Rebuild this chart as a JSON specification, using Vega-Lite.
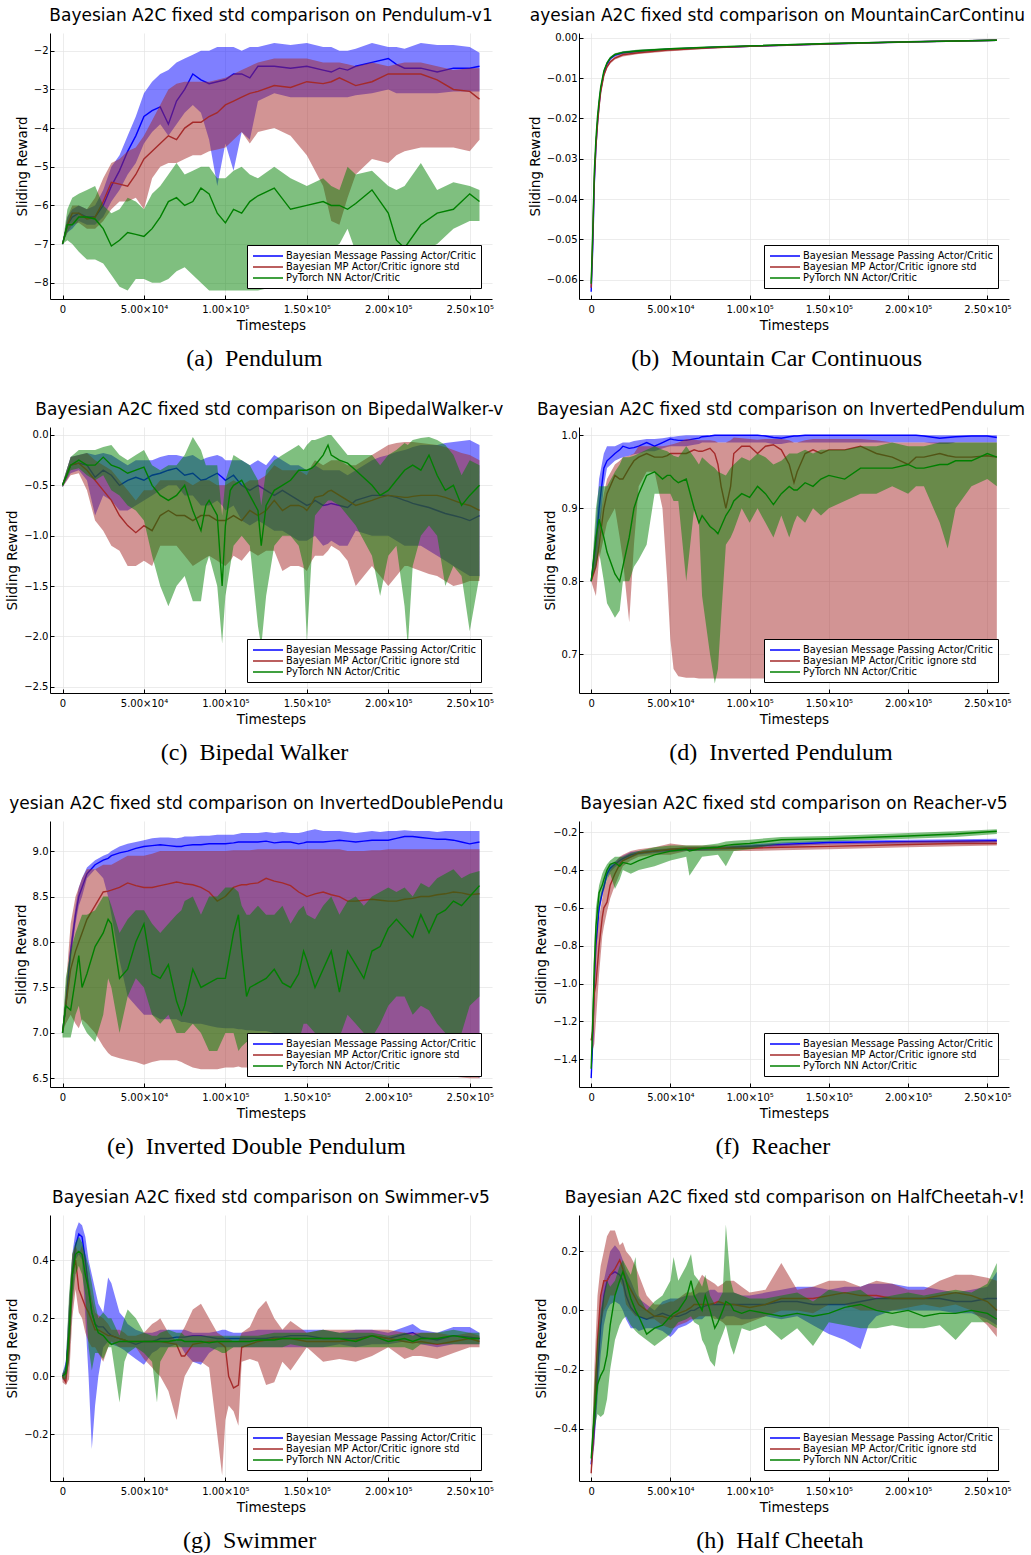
{
"$schema": "https://vega.github.io/schema/vega-lite/v6.json",
"background": "white",
"padding": {"left": 5, "top": 6, "right": 0, "bottom": 0},
"columns": 2,
"align": "each",
"spacing": {"row": 30, "column": 24},
"resolve": {"scale": {"color": "independent"}},
"config": {
 "font": "DejaVu Sans",
 "view": {"stroke": null},
 "axis": {"labelFont": "DejaVu Sans", "labelFontSize": 10, "labelColor": "#000", "titleFont": "DejaVu Sans", "titleFontSize": 13.5, "titleFontWeight": "normal", "titleColor": "#000", "domainColor": "#000", "domainWidth": 1, "gridColor": "#e4e4e4", "gridWidth": 0.7, "tickColor": "#000", "tickSize": -4},
 "axisX": {"labelPadding": 9, "titlePadding": 4},
 "axisY": {"labelPadding": 6},
 "legend": {"orient": "bottom-right", "offset": 11, "fillColor": "#ffffff", "strokeColor": "#000000", "padding": 5, "labelFont": "DejaVu Sans", "labelFontSize": 9.9, "labelColor": "#000", "symbolType": "M-3,0H3", "symbolSize": 100, "symbolOffset": 10, "symbolStrokeWidth": 1.5, "symbolOpacity": 1, "rowPadding": 0, "labelOffset": 12, "labelLimit": 320},
 "title": {"font": "DejaVu Sans", "fontSize": 17, "fontWeight": "normal", "color": "#000", "offset": 8}
},
"datasets": {
"a": [
{"t":0,"a":-7,"al":-7,"ah":-7,"b":-7,"bl":-7,"bh":-7,"c":-7,"cl":-7,"ch":-7},
{"t":3000,"a":-6.5,"al":-6.7,"ah":-6.3,"b":-6.5,"bl":-6.7,"bh":-6.3,"c":-6.5,"cl":-6.9,"ch":-6.1},
{"t":6000,"a":-6.3,"al":-6.6,"ah":-6.1,"b":-6.2,"bl":-6.5,"bh":-6.0,"c":-6.5,"cl":-7.0,"ch":-5.8},
{"t":10000,"a":-6.2,"al":-6.4,"ah":-6.0,"b":-6.2,"bl":-6.45,"bh":-6.0,"c":-6.3,"cl":-7.2,"ch":-5.7},
{"t":15000,"a":-6.3,"al":-6.5,"ah":-6.1,"b":-6.35,"bl":-6.6,"bh":-6.1,"c":-6.3,"cl":-7.4,"ch":-5.6},
{"t":20000,"a":-6.3,"al":-6.5,"ah":-6.0,"b":-6.3,"bl":-6.6,"bh":-5.8,"c":-6.35,"cl":-7.4,"ch":-5.5},
{"t":25000,"a":-6.0,"al":-6.3,"ah":-5.6,"b":-5.9,"bl":-6.4,"bh":-5.3,"c":-6.6,"cl":-7.5,"ch":-6.0},
{"t":30000,"a":-5.5,"al":-5.9,"ah":-5.0,"b":-5.4,"bl":-6.1,"bh":-4.9,"c":-7.05,"cl":-7.8,"ch":-6.2},
{"t":35000,"a":-5.1,"al":-5.6,"ah":-4.7,"b":-5.45,"bl":-5.9,"bh":-4.8,"c":-6.9,"cl":-8.1,"ch":-6.1},
{"t":40000,"a":-4.6,"al":-5.2,"ah":-4.2,"b":-5.5,"bl":-5.9,"bh":-4.6,"c":-6.7,"cl":-8.2,"ch":-5.8},
{"t":45000,"a":-4.2,"al":-4.9,"ah":-3.7,"b":-5.2,"bl":-5.8,"bh":-4.5,"c":-6.75,"cl":-7.9,"ch":-5.9},
{"t":50000,"a":-3.7,"al":-4.4,"ah":-3.1,"b":-4.8,"bl":-6.1,"bh":-4.2,"c":-6.8,"cl":-7.9,"ch":-6.1},
{"t":55000,"a":-3.55,"al":-4.1,"ah":-2.8,"b":-4.6,"bl":-5.3,"bh":-3.8,"c":-6.6,"cl":-8.0,"ch":-5.7},
{"t":60000,"a":-3.45,"al":-3.9,"ah":-2.6,"b":-4.4,"bl":-5.0,"bh":-3.4,"c":-6.3,"cl":-8.0,"ch":-5.5},
{"t":65000,"a":-3.9,"al":-4.2,"ah":-2.5,"b":-4.2,"bl":-4.9,"bh":-3.0,"c":-5.9,"cl":-7.9,"ch":-5.2},
{"t":70000,"a":-3.3,"al":-3.9,"ah":-2.3,"b":-4.3,"bl":-4.9,"bh":-2.85,"c":-5.8,"cl":-7.7,"ch":-4.9},
{"t":75000,"a":-3.0,"al":-3.6,"ah":-2.2,"b":-4.0,"bl":-4.8,"bh":-2.8,"c":-6.0,"cl":-7.6,"ch":-5.2},
{"t":80000,"a":-2.6,"al":-3.4,"ah":-2.1,"b":-3.85,"bl":-4.7,"bh":-2.8,"c":-5.9,"cl":-7.8,"ch":-5.1},
{"t":85000,"a":-2.75,"al":-3.6,"ah":-2.0,"b":-3.85,"bl":-4.7,"bh":-2.8,"c":-5.55,"cl":-8.0,"ch":-5.0},
{"t":90000,"a":-2.85,"al":-4.3,"ah":-2.0,"b":-3.7,"bl":-4.6,"bh":-2.8,"c":-5.7,"cl":-8.2,"ch":-5.0},
{"t":95000,"a":-2.8,"al":-5.5,"ah":-1.9,"b":-3.6,"bl":-4.55,"bh":-2.75,"c":-6.2,"cl":-8.2,"ch":-5.3},
{"t":100000,"a":-2.75,"al":-4.4,"ah":-1.9,"b":-3.4,"bl":-4.5,"bh":-2.7,"c":-6.45,"cl":-8.2,"ch":-5.3},
{"t":105000,"a":-2.6,"al":-5.1,"ah":-1.9,"b":-3.3,"bl":-4.3,"bh":-2.6,"c":-6.1,"cl":-8.2,"ch":-5.1},
{"t":110000,"a":-2.6,"al":-4.1,"ah":-2.0,"b":-3.2,"bl":-4.1,"bh":-2.5,"c":-6.2,"cl":-8.2,"ch":-5.0},
{"t":115000,"a":-2.7,"al":-4.3,"ah":-1.9,"b":-3.1,"bl":-4.4,"bh":-2.4,"c":-5.9,"cl":-8.2,"ch":-5.2},
{"t":120000,"a":-2.4,"al":-3.3,"ah":-1.9,"b":-3.05,"bl":-4.1,"bh":-2.3,"c":-5.75,"cl":-8.2,"ch":-5.3},
{"t":130000,"a":-2.4,"al":-3.1,"ah":-1.8,"b":-2.9,"bl":-4.0,"bh":-2.2,"c":-5.55,"cl":-8.1,"ch":-5.0},
{"t":140000,"a":-2.45,"al":-3.2,"ah":-1.85,"b":-2.95,"bl":-4.2,"bh":-2.2,"c":-6.1,"cl":-7.9,"ch":-5.3},
{"t":150000,"a":-2.4,"al":-3.2,"ah":-1.8,"b":-2.8,"bl":-4.7,"bh":-2.2,"c":-6.0,"cl":-7.5,"ch":-5.5},
{"t":160000,"a":-2.5,"al":-3.2,"ah":-1.9,"b":-2.85,"bl":-5.5,"bh":-2.3,"c":-5.9,"cl":-7.2,"ch":-5.3},
{"t":165000,"a":-2.55,"al":-3.2,"ah":-1.9,"b":-2.8,"bl":-6.4,"bh":-2.3,"c":-6.0,"cl":-7.1,"ch":-5.5},
{"t":170000,"a":-2.45,"al":-3.2,"ah":-2.0,"b":-2.7,"bl":-6.5,"bh":-2.3,"c":-6.0,"cl":-7.0,"ch":-5.6},
{"t":175000,"a":-2.5,"al":-3.2,"ah":-2.0,"b":-2.8,"bl":-5.8,"bh":-2.35,"c":-6.1,"cl":-6.6,"ch":-5.0},
{"t":180000,"a":-2.4,"al":-3.15,"ah":-1.95,"b":-2.9,"bl":-5.2,"bh":-2.4,"c":-5.95,"cl":-7.2,"ch":-5.2},
{"t":190000,"a":-2.3,"al":-3.1,"ah":-1.8,"b":-2.8,"bl":-4.8,"bh":-2.3,"c":-5.6,"cl":-7.8,"ch":-5.1},
{"t":200000,"a":-2.2,"al":-3.0,"ah":-1.9,"b":-2.6,"bl":-4.9,"bh":-2.4,"c":-6.2,"cl":-7.9,"ch":-5.5},
{"t":205000,"a":-2.35,"al":-3.1,"ah":-1.9,"b":-2.6,"bl":-4.7,"bh":-2.35,"c":-6.9,"cl":-7.8,"ch":-5.6},
{"t":210000,"a":-2.45,"al":-3.1,"ah":-1.95,"b":-2.6,"bl":-4.6,"bh":-2.3,"c":-7.1,"cl":-7.8,"ch":-5.5},
{"t":220000,"a":-2.45,"al":-3.1,"ah":-1.8,"b":-2.6,"bl":-4.5,"bh":-2.3,"c":-6.5,"cl":-7.2,"ch":-4.9},
{"t":230000,"a":-2.55,"al":-3.1,"ah":-1.85,"b":-2.75,"bl":-4.5,"bh":-2.4,"c":-6.2,"cl":-7.0,"ch":-5.6},
{"t":240000,"a":-2.45,"al":-3.05,"ah":-1.85,"b":-3.0,"bl":-4.5,"bh":-2.5,"c":-6.1,"cl":-6.6,"ch":-5.4},
{"t":250000,"a":-2.45,"al":-3.05,"ah":-1.9,"b":-3.05,"bl":-4.6,"bh":-2.45,"c":-5.7,"cl":-6.4,"ch":-5.5},
{"t":256000,"a":-2.4,"al":-3.05,"ah":-2.05,"b":-3.25,"bl":-4.3,"bh":-2.45,"c":-5.9,"cl":-6.4,"ch":-5.6}
],
"b": [
{"t":0,"a":-0.063,"al":-0.0633,"ah":-0.0627,"b":-0.062,"bl":-0.0624,"bh":-0.0616,"c":-0.061,"cl":-0.0613,"ch":-0.0607},
{"t":1000,"a":-0.052,"al":-0.0524,"ah":-0.0516,"b":-0.05,"bl":-0.0505,"bh":-0.0495,"c":-0.048,"cl":-0.0484,"ch":-0.0476},
{"t":2000,"a":-0.036,"al":-0.0364,"ah":-0.0356,"b":-0.035,"bl":-0.0355,"bh":-0.0345,"c":-0.033,"cl":-0.0334,"ch":-0.0326},
{"t":3000,"a":-0.027,"al":-0.0274,"ah":-0.0266,"b":-0.027,"bl":-0.0275,"bh":-0.0265,"c":-0.025,"cl":-0.0254,"ch":-0.0246},
{"t":4000,"a":-0.021,"al":-0.0214,"ah":-0.0206,"b":-0.0215,"bl":-0.022,"bh":-0.021,"c":-0.0195,"cl":-0.0199,"ch":-0.0191},
{"t":5000,"a":-0.0165,"al":-0.0169,"ah":-0.0161,"b":-0.017,"bl":-0.0175,"bh":-0.0165,"c":-0.0155,"cl":-0.0159,"ch":-0.0151},
{"t":6000,"a":-0.013,"al":-0.0134,"ah":-0.0126,"b":-0.0135,"bl":-0.014,"bh":-0.013,"c":-0.0122,"cl":-0.0126,"ch":-0.0118},
{"t":8000,"a":-0.0088,"al":-0.0091,"ah":-0.0085,"b":-0.0093,"bl":-0.0097,"bh":-0.0089,"c":-0.0082,"cl":-0.0085,"ch":-0.0079},
{"t":10000,"a":-0.0065,"al":-0.0068,"ah":-0.0062,"b":-0.0072,"bl":-0.0076,"bh":-0.0068,"c":-0.0062,"cl":-0.0065,"ch":-0.0059},
{"t":12000,"a":-0.0052,"al":-0.0055,"ah":-0.0049,"b":-0.006,"bl":-0.0064,"bh":-0.0056,"c":-0.005,"cl":-0.0053,"ch":-0.0047},
{"t":15000,"a":-0.0043,"al":-0.0046,"ah":-0.004,"b":-0.005,"bl":-0.0054,"bh":-0.0046,"c":-0.0041,"cl":-0.0044,"ch":-0.0038},
{"t":20000,"a":-0.0037,"al":-0.004,"ah":-0.0034,"b":-0.0042,"bl":-0.0046,"bh":-0.0038,"c":-0.0036,"cl":-0.0039,"ch":-0.0033},
{"t":30000,"a":-0.0033,"al":-0.0036,"ah":-0.003,"b":-0.0037,"bl":-0.004,"bh":-0.0034,"c":-0.0032,"cl":-0.0035,"ch":-0.0029},
{"t":50000,"a":-0.0028,"al":-0.003,"ah":-0.0026,"b":-0.003,"bl":-0.0033,"bh":-0.0027,"c":-0.0027,"cl":-0.0029,"ch":-0.0025},
{"t":75000,"a":-0.0024,"al":-0.0026,"ah":-0.0022,"b":-0.0025,"bl":-0.0027,"bh":-0.0023,"c":-0.0023,"cl":-0.0025,"ch":-0.0021},
{"t":100000,"a":-0.0021,"al":-0.0023,"ah":-0.0019,"b":-0.0021,"bl":-0.0023,"bh":-0.0019,"c":-0.002,"cl":-0.0022,"ch":-0.0018},
{"t":150000,"a":-0.0015,"al":-0.0017,"ah":-0.0013,"b":-0.0015,"bl":-0.0017,"bh":-0.0013,"c":-0.0014,"cl":-0.0016,"ch":-0.0012},
{"t":200000,"a":-0.001,"al":-0.0012,"ah":-0.0008,"b":-0.001,"bl":-0.0012,"bh":-0.0008,"c":-0.001,"cl":-0.0012,"ch":-0.0008},
{"t":256000,"a":-0.0006,"al":-0.0008,"ah":-0.0004,"b":-0.0006,"bl":-0.0008,"bh":-0.0004,"c":-0.0006,"cl":-0.0008,"ch":-0.0004}
],
"c": [
{"t":0,"a":-0.5,"al":-0.52,"ah":-0.48,"b":-0.5,"bl":-0.52,"bh":-0.48,"c":-0.5,"cl":-0.52,"ch":-0.48},
{"t":5000,"a":-0.3,"al":-0.38,"ah":-0.22,"b":-0.3,"bl":-0.4,"bh":-0.22,"c":-0.3,"cl":-0.35,"ch":-0.22},
{"t":10000,"a":-0.28,"al":-0.35,"ah":-0.2,"b":-0.28,"bl":-0.38,"bh":-0.2,"c":-0.25,"cl":-0.33,"ch":-0.15},
{"t":15000,"a":-0.3,"al":-0.45,"ah":-0.18,"b":-0.35,"bl":-0.55,"bh":-0.18,"c":-0.3,"cl":-0.4,"ch":-0.15},
{"t":20000,"a":-0.42,"al":-0.8,"ah":-0.2,"b":-0.45,"bl":-0.85,"bh":-0.25,"c":-0.3,"cl":-0.45,"ch":-0.15},
{"t":25000,"a":-0.35,"al":-0.6,"ah":-0.18,"b":-0.55,"bl":-0.95,"bh":-0.3,"c":-0.22,"cl":-0.4,"ch":-0.12},
{"t":30000,"a":-0.4,"al":-0.65,"ah":-0.2,"b":-0.65,"bl":-1.1,"bh":-0.35,"c":-0.3,"cl":-0.55,"ch":-0.1},
{"t":35000,"a":-0.5,"al":-0.75,"ah":-0.25,"b":-0.8,"bl":-1.15,"bh":-0.45,"c":-0.33,"cl":-0.6,"ch":-0.2},
{"t":40000,"a":-0.45,"al":-0.75,"ah":-0.3,"b":-0.9,"bl":-1.3,"bh":-0.55,"c":-0.38,"cl":-0.7,"ch":-0.25},
{"t":45000,"a":-0.42,"al":-0.7,"ah":-0.25,"b":-0.97,"bl":-1.3,"bh":-0.65,"c":-0.35,"cl":-0.75,"ch":-0.2},
{"t":50000,"a":-0.45,"al":-0.65,"ah":-0.25,"b":-0.9,"bl":-1.25,"bh":-0.55,"c":-0.32,"cl":-0.85,"ch":-0.15},
{"t":55000,"a":-0.4,"al":-0.6,"ah":-0.25,"b":-0.95,"bl":-1.3,"bh":-0.55,"c":-0.5,"cl":-1.2,"ch":-0.3},
{"t":60000,"a":-0.38,"al":-0.55,"ah":-0.22,"b":-0.8,"bl":-1.1,"bh":-0.45,"c":-0.6,"cl":-1.5,"ch":-0.35},
{"t":65000,"a":-0.35,"al":-0.5,"ah":-0.2,"b":-0.75,"bl":-1.1,"bh":-0.45,"c":-0.65,"cl":-1.7,"ch":-0.3},
{"t":70000,"a":-0.33,"al":-0.5,"ah":-0.2,"b":-0.8,"bl":-1.1,"bh":-0.45,"c":-0.6,"cl":-1.5,"ch":-0.3},
{"t":75000,"a":-0.4,"al":-0.6,"ah":-0.22,"b":-0.8,"bl":-1.2,"bh":-0.45,"c":-0.5,"cl":-1.4,"ch":-0.2},
{"t":80000,"a":-0.38,"al":-0.6,"ah":-0.2,"b":-0.85,"bl":-1.3,"bh":-0.5,"c":-0.75,"cl":-1.65,"ch":-0.02},
{"t":85000,"a":-0.45,"al":-0.7,"ah":-0.25,"b":-0.8,"bl":-1.25,"bh":-0.45,"c":-0.95,"cl":-1.65,"ch":-0.15},
{"t":88000,"a":-0.44,"al":-0.7,"ah":-0.23,"b":-0.8,"bl":-1.22,"bh":-0.45,"c":-0.7,"cl":-1.3,"ch":-0.3},
{"t":90000,"a":-0.42,"al":-0.7,"ah":-0.22,"b":-0.8,"bl":-1.2,"bh":-0.45,"c":-0.65,"cl":-1.2,"ch":-0.3},
{"t":95000,"a":-0.38,"al":-0.65,"ah":-0.2,"b":-0.85,"bl":-1.25,"bh":-0.5,"c":-0.8,"cl":-1.5,"ch":-0.3},
{"t":98000,"a":-0.42,"al":-0.7,"ah":-0.22,"b":-0.85,"bl":-1.28,"bh":-0.5,"c":-1.5,"cl":-2.07,"ch":-0.8},
{"t":100000,"a":-0.45,"al":-0.75,"ah":-0.25,"b":-0.85,"bl":-1.3,"bh":-0.5,"c":-0.9,"cl":-1.6,"ch":-0.45},
{"t":103000,"a":-0.42,"al":-0.72,"ah":-0.25,"b":-0.82,"bl":-1.25,"bh":-0.47,"c":-0.55,"cl":-1.3,"ch":-0.3},
{"t":105000,"a":-0.4,"al":-0.7,"ah":-0.25,"b":-0.8,"bl":-1.2,"bh":-0.45,"c":-0.5,"cl":-1.1,"ch":-0.2},
{"t":110000,"a":-0.5,"al":-0.85,"ah":-0.25,"b":-0.85,"bl":-1.25,"bh":-0.5,"c":-0.45,"cl":-1.0,"ch":-0.25},
{"t":115000,"a":-0.55,"al":-0.9,"ah":-0.3,"b":-0.75,"bl":-1.15,"bh":-0.45,"c":-0.6,"cl":-1.1,"ch":-0.3},
{"t":120000,"a":-0.5,"al":-0.85,"ah":-0.25,"b":-0.8,"bl":-1.2,"bh":-0.45,"c":-0.75,"cl":-1.9,"ch":-0.45},
{"t":122000,"a":-0.52,"al":-0.87,"ah":-0.27,"b":-0.78,"bl":-1.18,"bh":-0.43,"c":-1.1,"cl":-2.1,"ch":-0.7},
{"t":125000,"a":-0.55,"al":-0.9,"ah":-0.3,"b":-0.75,"bl":-1.15,"bh":-0.4,"c":-0.7,"cl":-1.6,"ch":-0.35},
{"t":130000,"a":-0.6,"al":-0.95,"ah":-0.2,"b":-0.65,"bl":-1.15,"bh":-0.3,"c":-0.55,"cl":-1.1,"ch":-0.25},
{"t":135000,"a":-0.55,"al":-0.95,"ah":-0.25,"b":-0.75,"bl":-1.35,"bh":-0.35,"c":-0.5,"cl":-1.0,"ch":-0.2},
{"t":140000,"a":-0.6,"al":-1.0,"ah":-0.3,"b":-0.7,"bl":-1.3,"bh":-0.35,"c":-0.45,"cl":-1.0,"ch":-0.15},
{"t":145000,"a":-0.65,"al":-1.05,"ah":-0.3,"b":-0.7,"bl":-1.3,"bh":-0.35,"c":-0.35,"cl":-1.1,"ch":-0.1},
{"t":148000,"a":-0.68,"al":-1.05,"ah":-0.33,"b":-0.72,"bl":-1.32,"bh":-0.38,"c":-0.35,"cl":-1.3,"ch":-0.15},
{"t":150000,"a":-0.7,"al":-1.05,"ah":-0.35,"b":-0.75,"bl":-1.35,"bh":-0.4,"c":-0.35,"cl":-2.05,"ch":-0.1},
{"t":153000,"a":-0.68,"al":-1.02,"ah":-0.32,"b":-0.68,"bl":-1.25,"bh":-0.3,"c":-0.33,"cl":-1.2,"ch":-0.05},
{"t":155000,"a":-0.65,"al":-1.0,"ah":-0.3,"b":-0.62,"bl":-1.2,"bh":-0.25,"c":-0.3,"cl":-0.8,"ch":-0.05},
{"t":160000,"a":-0.7,"al":-1.1,"ah":-0.35,"b":-0.6,"bl":-1.2,"bh":-0.3,"c":-0.2,"cl":-0.7,"ch":-0.02},
{"t":163000,"a":-0.69,"al":-1.08,"ah":-0.35,"b":-0.56,"bl":-1.15,"bh":-0.27,"c":-0.1,"cl":-0.65,"ch":0.0},
{"t":165000,"a":-0.68,"al":-1.05,"ah":-0.35,"b":-0.55,"bl":-1.1,"bh":-0.25,"c":-0.2,"cl":-0.65,"ch":0.0},
{"t":170000,"a":-0.7,"al":-1.1,"ah":-0.35,"b":-0.6,"bl":-1.15,"bh":-0.25,"c":-0.25,"cl":-0.7,"ch":-0.1},
{"t":175000,"a":-0.72,"al":-1.1,"ah":-0.4,"b":-0.65,"bl":-1.25,"bh":-0.3,"c":-0.28,"cl":-0.8,"ch":-0.2},
{"t":180000,"a":-0.65,"al":-0.95,"ah":-0.35,"b":-0.7,"bl":-1.5,"bh":-0.3,"c":-0.35,"cl":-0.9,"ch":-0.2},
{"t":190000,"a":-0.6,"al":-1.0,"ah":-0.25,"b":-0.65,"bl":-1.3,"bh":-0.2,"c":-0.5,"cl":-1.2,"ch":-0.2},
{"t":195000,"a":-0.6,"al":-1.0,"ah":-0.22,"b":-0.62,"bl":-1.4,"bh":-0.15,"c":-0.6,"cl":-1.6,"ch":-0.3},
{"t":200000,"a":-0.6,"al":-1.0,"ah":-0.2,"b":-0.6,"bl":-1.5,"bh":-0.1,"c":-0.55,"cl":-1.2,"ch":-0.2},
{"t":205000,"a":-0.62,"al":-1.05,"ah":-0.17,"b":-0.61,"bl":-1.4,"bh":-0.08,"c":-0.45,"cl":-1.1,"ch":-0.15},
{"t":210000,"a":-0.65,"al":-1.1,"ah":-0.15,"b":-0.62,"bl":-1.3,"bh":-0.07,"c":-0.35,"cl":-1.7,"ch":-0.08},
{"t":212000,"a":-0.66,"al":-1.1,"ah":-0.14,"b":-0.62,"bl":-1.3,"bh":-0.07,"c":-0.33,"cl":-2.1,"ch":-0.1},
{"t":215000,"a":-0.68,"al":-1.1,"ah":-0.12,"b":-0.61,"bl":-1.32,"bh":-0.07,"c":-0.3,"cl":-1.3,"ch":-0.05},
{"t":220000,"a":-0.7,"al":-1.1,"ah":-0.1,"b":-0.6,"bl":-1.35,"bh":-0.08,"c":-0.35,"cl":-1.0,"ch":-0.03},
{"t":225000,"a":-0.72,"al":-1.15,"ah":-0.1,"b":-0.6,"bl":-1.38,"bh":-0.09,"c":-0.2,"cl":-0.9,"ch":-0.02},
{"t":230000,"a":-0.75,"al":-1.2,"ah":-0.1,"b":-0.6,"bl":-1.4,"bh":-0.1,"c":-0.4,"cl":-1.0,"ch":-0.05},
{"t":235000,"a":-0.78,"al":-1.25,"ah":-0.08,"b":-0.62,"bl":-1.45,"bh":-0.12,"c":-0.55,"cl":-1.5,"ch":-0.1},
{"t":240000,"a":-0.8,"al":-1.3,"ah":-0.07,"b":-0.65,"bl":-1.5,"bh":-0.15,"c":-0.5,"cl":-1.3,"ch":-0.2},
{"t":245000,"a":-0.82,"al":-1.35,"ah":-0.06,"b":-0.68,"bl":-1.48,"bh":-0.18,"c":-0.7,"cl":-1.4,"ch":-0.4},
{"t":250000,"a":-0.85,"al":-1.4,"ah":-0.05,"b":-0.7,"bl":-1.45,"bh":-0.2,"c":-0.6,"cl":-1.95,"ch":-0.25},
{"t":256000,"a":-0.8,"al":-1.4,"ah":-0.1,"b":-0.75,"bl":-1.45,"bh":-0.25,"c":-0.5,"cl":-1.4,"ch":-0.3}
],
"d": [
{"t":0,"a":0.8,"al":0.8,"ah":0.8,"b":0.8,"bl":0.8,"bh":0.8,"c":0.8,"cl":0.8,"ch":0.8},
{"t":3000,"a":0.85,"al":0.82,"ah":0.88,"b":0.82,"bl":0.78,"bh":0.86,"c":0.86,"cl":0.82,"ch":0.9},
{"t":5000,"a":0.9,"al":0.86,"ah":0.94,"b":0.85,"bl":0.83,"bh":0.88,"c":0.885,"cl":0.84,"ch":0.93},
{"t":8000,"a":0.955,"al":0.93,"ah":0.975,"b":0.9,"bl":0.86,"bh":0.92,"c":0.86,"cl":0.8,"ch":0.93},
{"t":10000,"a":0.965,"al":0.955,"ah":0.985,"b":0.92,"bl":0.88,"bh":0.94,"c":0.84,"cl":0.77,"ch":0.93},
{"t":15000,"a":0.975,"al":0.965,"ah":0.985,"b":0.945,"bl":0.9,"bh":0.96,"c":0.81,"cl":0.75,"ch":0.95},
{"t":18000,"a":0.98,"al":0.968,"ah":0.988,"b":0.94,"bl":0.86,"bh":0.965,"c":0.8,"cl":0.76,"ch":0.96},
{"t":20000,"a":0.985,"al":0.97,"ah":0.99,"b":0.94,"bl":0.83,"bh":0.97,"c":0.82,"cl":0.8,"ch":0.97},
{"t":24000,"a":0.982,"al":0.972,"ah":0.99,"b":0.955,"bl":0.744,"bh":0.972,"c":0.86,"cl":0.8,"ch":0.97},
{"t":27000,"a":0.983,"al":0.974,"ah":0.992,"b":0.965,"bl":0.85,"bh":0.975,"c":0.9,"cl":0.82,"ch":0.972},
{"t":30000,"a":0.985,"al":0.975,"ah":0.993,"b":0.97,"bl":0.93,"bh":0.985,"c":0.92,"cl":0.83,"ch":0.975},
{"t":35000,"a":0.99,"al":0.978,"ah":0.995,"b":0.975,"bl":0.95,"bh":0.985,"c":0.945,"cl":0.85,"ch":0.98},
{"t":40000,"a":0.985,"al":0.978,"ah":0.995,"b":0.97,"bl":0.95,"bh":0.985,"c":0.95,"cl":0.92,"ch":0.985},
{"t":45000,"a":0.99,"al":0.982,"ah":0.996,"b":0.97,"bl":0.9,"bh":0.985,"c":0.94,"cl":0.92,"ch":0.98},
{"t":48000,"a":0.993,"al":0.984,"ah":0.997,"b":0.972,"bl":0.8,"bh":0.986,"c":0.945,"cl":0.92,"ch":0.978},
{"t":50000,"a":0.995,"al":0.985,"ah":0.998,"b":0.975,"bl":0.72,"bh":0.987,"c":0.945,"cl":0.92,"ch":0.975},
{"t":52000,"a":0.994,"al":0.985,"ah":0.998,"b":0.975,"bl":0.68,"bh":0.988,"c":0.94,"cl":0.91,"ch":0.972},
{"t":55000,"a":0.993,"al":0.985,"ah":0.999,"b":0.975,"bl":0.67,"bh":0.99,"c":0.935,"cl":0.91,"ch":0.97},
{"t":60000,"a":0.993,"al":0.985,"ah":1.0,"b":0.975,"bl":0.668,"bh":0.995,"c":0.94,"cl":0.8,"ch":0.985},
{"t":65000,"a":0.995,"al":0.987,"ah":1.0,"b":0.98,"bl":0.668,"bh":0.994,"c":0.9,"cl":0.9,"ch":0.97},
{"t":68000,"a":0.996,"al":0.988,"ah":1.0,"b":0.978,"bl":0.667,"bh":0.993,"c":0.88,"cl":0.88,"ch":0.96},
{"t":70000,"a":0.998,"al":0.99,"ah":1.0,"b":0.978,"bl":0.667,"bh":0.993,"c":0.89,"cl":0.78,"ch":0.97},
{"t":75000,"a":0.999,"al":0.99,"ah":1.0,"b":0.982,"bl":0.667,"bh":0.993,"c":0.875,"cl":0.7,"ch":0.96},
{"t":78000,"a":1.0,"al":0.99,"ah":1.0,"b":0.975,"bl":0.667,"bh":0.992,"c":0.87,"cl":0.66,"ch":0.955},
{"t":80000,"a":1.0,"al":0.99,"ah":1.0,"b":0.96,"bl":0.667,"bh":0.99,"c":0.865,"cl":0.68,"ch":0.95},
{"t":82000,"a":1.0,"al":0.99,"ah":1.0,"b":0.93,"bl":0.667,"bh":0.99,"c":0.875,"cl":0.75,"ch":0.948},
{"t":85000,"a":1.0,"al":0.99,"ah":1.0,"b":0.9,"bl":0.667,"bh":0.99,"c":0.89,"cl":0.85,"ch":0.945},
{"t":88000,"a":1.0,"al":0.99,"ah":1.0,"b":0.93,"bl":0.667,"bh":0.993,"c":0.9,"cl":0.86,"ch":0.955},
{"t":90000,"a":1.0,"al":0.99,"ah":1.0,"b":0.975,"bl":0.667,"bh":0.997,"c":0.91,"cl":0.87,"ch":0.96},
{"t":95000,"a":1.0,"al":0.99,"ah":1.0,"b":0.985,"bl":0.667,"bh":0.996,"c":0.92,"cl":0.9,"ch":0.97},
{"t":100000,"a":1.0,"al":0.99,"ah":1.0,"b":0.985,"bl":0.667,"bh":0.995,"c":0.915,"cl":0.88,"ch":0.965},
{"t":105000,"a":1.0,"al":0.99,"ah":1.0,"b":0.975,"bl":0.667,"bh":0.994,"c":0.93,"cl":0.9,"ch":0.975},
{"t":110000,"a":0.999,"al":0.99,"ah":1.0,"b":0.985,"bl":0.667,"bh":0.995,"c":0.92,"cl":0.88,"ch":0.97},
{"t":115000,"a":0.997,"al":0.988,"ah":1.0,"b":0.987,"bl":0.667,"bh":0.995,"c":0.905,"cl":0.86,"ch":0.96},
{"t":120000,"a":0.996,"al":0.988,"ah":1.0,"b":0.98,"bl":0.667,"bh":0.995,"c":0.92,"cl":0.89,"ch":0.965},
{"t":125000,"a":0.998,"al":0.99,"ah":1.0,"b":0.96,"bl":0.667,"bh":0.993,"c":0.93,"cl":0.86,"ch":0.975},
{"t":128000,"a":0.999,"al":0.99,"ah":1.0,"b":0.935,"bl":0.667,"bh":0.99,"c":0.925,"cl":0.88,"ch":0.975},
{"t":130000,"a":0.999,"al":0.99,"ah":1.0,"b":0.95,"bl":0.667,"bh":0.99,"c":0.925,"cl":0.89,"ch":0.975},
{"t":135000,"a":1.0,"al":0.99,"ah":1.0,"b":0.975,"bl":0.667,"bh":0.993,"c":0.935,"cl":0.88,"ch":0.98},
{"t":140000,"a":1.0,"al":0.99,"ah":1.0,"b":0.98,"bl":0.667,"bh":0.995,"c":0.93,"cl":0.9,"ch":0.975},
{"t":145000,"a":1.0,"al":0.99,"ah":1.0,"b":0.975,"bl":0.667,"bh":0.995,"c":0.94,"cl":0.89,"ch":0.98},
{"t":150000,"a":1.0,"al":0.99,"ah":1.0,"b":0.98,"bl":0.667,"bh":0.995,"c":0.945,"cl":0.9,"ch":0.98},
{"t":160000,"a":1.0,"al":0.99,"ah":1.0,"b":0.98,"bl":0.667,"bh":0.995,"c":0.94,"cl":0.91,"ch":0.98},
{"t":170000,"a":1.0,"al":0.99,"ah":1.0,"b":0.985,"bl":0.667,"bh":0.995,"c":0.955,"cl":0.92,"ch":0.985},
{"t":180000,"a":1.0,"al":0.99,"ah":1.0,"b":0.975,"bl":0.667,"bh":0.993,"c":0.955,"cl":0.92,"ch":0.985},
{"t":190000,"a":1.0,"al":0.99,"ah":1.0,"b":0.97,"bl":0.667,"bh":0.99,"c":0.955,"cl":0.93,"ch":0.99},
{"t":200000,"a":1.0,"al":0.99,"ah":1.0,"b":0.96,"bl":0.667,"bh":0.99,"c":0.96,"cl":0.92,"ch":0.985},
{"t":205000,"a":1.0,"al":0.99,"ah":1.0,"b":0.97,"bl":0.667,"bh":0.99,"c":0.955,"cl":0.93,"ch":0.985},
{"t":210000,"a":0.999,"al":0.99,"ah":1.0,"b":0.97,"bl":0.667,"bh":0.99,"c":0.955,"cl":0.93,"ch":0.985},
{"t":220000,"a":0.996,"al":0.988,"ah":1.0,"b":0.975,"bl":0.667,"bh":0.99,"c":0.96,"cl":0.88,"ch":0.99},
{"t":225000,"a":0.997,"al":0.988,"ah":1.0,"b":0.972,"bl":0.667,"bh":0.99,"c":0.96,"cl":0.845,"ch":0.99},
{"t":230000,"a":0.998,"al":0.99,"ah":1.0,"b":0.97,"bl":0.667,"bh":0.99,"c":0.965,"cl":0.9,"ch":0.99},
{"t":240000,"a":0.999,"al":0.99,"ah":1.0,"b":0.97,"bl":0.667,"bh":0.99,"c":0.965,"cl":0.93,"ch":0.99},
{"t":250000,"a":0.999,"al":0.99,"ah":1.0,"b":0.972,"bl":0.667,"bh":0.99,"c":0.975,"cl":0.94,"ch":0.99},
{"t":256000,"a":0.997,"al":0.99,"ah":1.0,"b":0.97,"bl":0.665,"bh":0.99,"c":0.97,"cl":0.93,"ch":0.99}
],
"e": [
{"t":0,"a":7.0,"al":7.0,"ah":7.0,"b":7.0,"bl":7.0,"bh":7.0,"c":7.0,"cl":6.95,"ch":7.05},
{"t":2000,"a":7.3,"al":7.2,"ah":7.4,"b":7.3,"bl":7.1,"bh":7.5,"c":7.3,"cl":6.95,"ch":7.6},
{"t":5000,"a":7.9,"al":7.8,"ah":8.0,"b":7.7,"bl":7.2,"bh":8.2,"c":7.25,"cl":6.95,"ch":7.9},
{"t":8000,"a":8.3,"al":8.2,"ah":8.4,"b":7.9,"bl":7.1,"bh":8.5,"c":7.6,"cl":7.2,"ch":8.1},
{"t":10000,"a":8.5,"al":8.4,"ah":8.6,"b":8.0,"bl":7.05,"bh":8.6,"c":7.85,"cl":7.3,"ch":8.2},
{"t":12000,"a":8.6,"al":8.5,"ah":8.7,"b":8.1,"bl":7.15,"bh":8.7,"c":7.5,"cl":7.1,"ch":8.3},
{"t":15000,"a":8.75,"al":8.7,"ah":8.82,"b":8.25,"bl":7.1,"bh":8.8,"c":7.65,"cl":7.0,"ch":8.3},
{"t":20000,"a":8.85,"al":8.8,"ah":8.9,"b":8.4,"bl":7.0,"bh":8.8,"c":7.95,"cl":6.9,"ch":8.35},
{"t":25000,"a":8.9,"al":8.7,"ah":8.95,"b":8.55,"bl":6.85,"bh":8.85,"c":8.1,"cl":7.2,"ch":8.5},
{"t":28000,"a":8.92,"al":8.5,"ah":8.97,"b":8.56,"bl":6.78,"bh":8.85,"c":8.25,"cl":7.6,"ch":8.5},
{"t":30000,"a":8.95,"al":8.3,"ah":9.0,"b":8.57,"bl":6.75,"bh":8.85,"c":8.2,"cl":7.5,"ch":8.4},
{"t":35000,"a":8.98,"al":7.8,"ah":9.05,"b":8.6,"bl":6.72,"bh":8.9,"c":7.6,"cl":7.0,"ch":8.1},
{"t":40000,"a":9.0,"al":7.4,"ah":9.08,"b":8.65,"bl":6.7,"bh":8.95,"c":7.7,"cl":7.4,"ch":8.25},
{"t":45000,"a":9.03,"al":7.3,"ah":9.1,"b":8.62,"bl":6.68,"bh":8.95,"c":8.0,"cl":7.6,"ch":8.35},
{"t":50000,"a":9.05,"al":7.2,"ah":9.12,"b":8.6,"bl":6.65,"bh":8.95,"c":8.2,"cl":7.5,"ch":8.35},
{"t":55000,"a":9.06,"al":7.2,"ah":9.14,"b":8.6,"bl":6.68,"bh":8.97,"c":7.65,"cl":7.2,"ch":8.2},
{"t":60000,"a":9.07,"al":7.15,"ah":9.15,"b":8.62,"bl":6.7,"bh":9.0,"c":7.6,"cl":7.1,"ch":8.1},
{"t":65000,"a":9.06,"al":7.15,"ah":9.15,"b":8.64,"bl":6.7,"bh":9.0,"c":7.75,"cl":7.2,"ch":8.2},
{"t":70000,"a":9.05,"al":7.15,"ah":9.14,"b":8.66,"bl":6.7,"bh":9.0,"c":7.35,"cl":7.0,"ch":8.3},
{"t":73000,"a":9.05,"al":7.12,"ah":9.15,"b":8.65,"bl":6.68,"bh":9.0,"c":7.2,"cl":7.0,"ch":8.35},
{"t":75000,"a":9.06,"al":7.12,"ah":9.16,"b":8.64,"bl":6.66,"bh":9.0,"c":7.3,"cl":7.0,"ch":8.45},
{"t":80000,"a":9.07,"al":7.1,"ah":9.16,"b":8.63,"bl":6.62,"bh":9.0,"c":7.7,"cl":7.1,"ch":8.5},
{"t":85000,"a":9.07,"al":7.1,"ah":9.17,"b":8.6,"bl":6.6,"bh":9.0,"c":7.5,"cl":7.0,"ch":8.3},
{"t":90000,"a":9.08,"al":7.08,"ah":9.17,"b":8.55,"bl":6.6,"bh":9.0,"c":7.55,"cl":6.8,"ch":8.5},
{"t":95000,"a":9.08,"al":7.06,"ah":9.18,"b":8.45,"bl":6.6,"bh":9.0,"c":7.6,"cl":6.8,"ch":8.5},
{"t":100000,"a":9.08,"al":7.05,"ah":9.18,"b":8.5,"bl":6.62,"bh":9.0,"c":7.6,"cl":7.0,"ch":8.6},
{"t":105000,"a":9.09,"al":7.05,"ah":9.18,"b":8.6,"bl":6.62,"bh":9.01,"c":8.1,"cl":7.0,"ch":8.6},
{"t":108000,"a":9.1,"al":7.04,"ah":9.19,"b":8.62,"bl":6.63,"bh":9.01,"c":8.3,"cl":6.8,"ch":8.55},
{"t":110000,"a":9.1,"al":7.04,"ah":9.2,"b":8.63,"bl":6.62,"bh":9.01,"c":7.9,"cl":6.85,"ch":8.4},
{"t":113000,"a":9.1,"al":7.03,"ah":9.2,"b":8.63,"bl":6.62,"bh":9.01,"c":7.4,"cl":6.9,"ch":8.3},
{"t":115000,"a":9.1,"al":7.03,"ah":9.2,"b":8.64,"bl":6.62,"bh":9.01,"c":7.5,"cl":6.9,"ch":8.3},
{"t":120000,"a":9.1,"al":7.02,"ah":9.2,"b":8.65,"bl":6.6,"bh":9.02,"c":7.55,"cl":6.9,"ch":8.4},
{"t":125000,"a":9.11,"al":7.02,"ah":9.21,"b":8.7,"bl":6.6,"bh":9.02,"c":7.6,"cl":7.0,"ch":8.3},
{"t":130000,"a":9.09,"al":7.0,"ah":9.2,"b":8.67,"bl":6.6,"bh":9.02,"c":7.7,"cl":7.0,"ch":8.3},
{"t":135000,"a":9.1,"al":7.0,"ah":9.21,"b":8.65,"bl":6.58,"bh":9.02,"c":7.55,"cl":6.9,"ch":8.4},
{"t":140000,"a":9.1,"al":7.0,"ah":9.2,"b":8.62,"bl":6.56,"bh":9.02,"c":7.5,"cl":7.0,"ch":8.2},
{"t":145000,"a":9.08,"al":7.0,"ah":9.2,"b":8.55,"bl":6.56,"bh":9.02,"c":7.65,"cl":6.9,"ch":8.35},
{"t":148000,"a":9.09,"al":7.0,"ah":9.21,"b":8.52,"bl":6.56,"bh":9.02,"c":7.9,"cl":7.1,"ch":8.4},
{"t":150000,"a":9.1,"al":6.98,"ah":9.22,"b":8.5,"bl":6.55,"bh":9.02,"c":7.8,"cl":7.1,"ch":8.3},
{"t":155000,"a":9.1,"al":6.98,"ah":9.24,"b":8.53,"bl":6.55,"bh":9.02,"c":7.5,"cl":7.0,"ch":8.25},
{"t":160000,"a":9.1,"al":6.95,"ah":9.22,"b":8.55,"bl":6.55,"bh":9.02,"c":7.7,"cl":6.95,"ch":8.4},
{"t":165000,"a":9.11,"al":6.95,"ah":9.22,"b":8.52,"bl":6.55,"bh":9.02,"c":7.9,"cl":7.0,"ch":8.5},
{"t":170000,"a":9.12,"al":6.93,"ah":9.22,"b":8.5,"bl":6.55,"bh":9.02,"c":7.45,"cl":6.95,"ch":8.3},
{"t":175000,"a":9.11,"al":6.92,"ah":9.21,"b":8.45,"bl":6.55,"bh":9.0,"c":7.9,"cl":7.2,"ch":8.45},
{"t":180000,"a":9.1,"al":6.9,"ah":9.2,"b":8.45,"bl":6.55,"bh":9.0,"c":7.75,"cl":7.1,"ch":8.5},
{"t":185000,"a":9.11,"al":6.9,"ah":9.21,"b":8.46,"bl":6.55,"bh":9.0,"c":7.6,"cl":7.0,"ch":8.4},
{"t":190000,"a":9.12,"al":6.9,"ah":9.22,"b":8.47,"bl":6.54,"bh":9.01,"c":7.9,"cl":6.95,"ch":8.5},
{"t":195000,"a":9.12,"al":6.9,"ah":9.21,"b":8.46,"bl":6.54,"bh":9.01,"c":7.95,"cl":7.1,"ch":8.55},
{"t":200000,"a":9.12,"al":6.9,"ah":9.22,"b":8.45,"bl":6.54,"bh":9.02,"c":8.15,"cl":7.3,"ch":8.6},
{"t":205000,"a":9.14,"al":6.9,"ah":9.22,"b":8.45,"bl":6.53,"bh":9.02,"c":8.25,"cl":7.4,"ch":8.55},
{"t":210000,"a":9.16,"al":6.9,"ah":9.23,"b":8.47,"bl":6.53,"bh":9.02,"c":8.15,"cl":7.4,"ch":8.6},
{"t":215000,"a":9.16,"al":6.88,"ah":9.22,"b":8.48,"bl":6.53,"bh":9.02,"c":8.05,"cl":7.2,"ch":8.5},
{"t":220000,"a":9.15,"al":6.88,"ah":9.22,"b":8.5,"bl":6.52,"bh":9.02,"c":8.3,"cl":7.3,"ch":8.65},
{"t":225000,"a":9.14,"al":6.87,"ah":9.22,"b":8.5,"bl":6.52,"bh":9.02,"c":8.1,"cl":7.25,"ch":8.6},
{"t":230000,"a":9.13,"al":6.87,"ah":9.21,"b":8.52,"bl":6.52,"bh":9.02,"c":8.3,"cl":7.1,"ch":8.7},
{"t":235000,"a":9.13,"al":6.86,"ah":9.22,"b":8.53,"bl":6.52,"bh":9.02,"c":8.35,"cl":7.0,"ch":8.75},
{"t":240000,"a":9.12,"al":6.85,"ah":9.22,"b":8.55,"bl":6.52,"bh":9.02,"c":8.45,"cl":6.95,"ch":8.8},
{"t":245000,"a":9.1,"al":6.8,"ah":9.22,"b":8.54,"bl":6.51,"bh":9.02,"c":8.4,"cl":7.0,"ch":8.7},
{"t":250000,"a":9.08,"al":6.6,"ah":9.22,"b":8.52,"bl":6.5,"bh":9.02,"c":8.5,"cl":7.3,"ch":8.75},
{"t":256000,"a":9.1,"al":6.5,"ah":9.22,"b":8.53,"bl":6.5,"bh":9.02,"c":8.62,"cl":7.4,"ch":8.78}
],
"f": [
{"t":0,"a":-1.5,"al":-1.5,"ah":-1.5,"b":-1.3,"bl":-1.3,"bh":-1.3,"c":-1.45,"cl":-1.45,"ch":-1.45},
{"t":1000,"a":-1.3,"al":-1.35,"ah":-1.25,"b":-1.25,"bl":-1.35,"bh":-1.1,"c":-1.2,"cl":-1.3,"ch":-1.1},
{"t":2000,"a":-1.0,"al":-1.05,"ah":-0.95,"b":-1.05,"bl":-1.32,"bh":-0.9,"c":-0.9,"cl":-1.0,"ch":-0.8},
{"t":3000,"a":-0.8,"al":-0.85,"ah":-0.75,"b":-1.0,"bl":-1.2,"bh":-0.8,"c":-0.7,"cl":-0.8,"ch":-0.6},
{"t":5000,"a":-0.6,"al":-0.63,"ah":-0.57,"b":-0.8,"bl":-0.95,"bh":-0.65,"c":-0.52,"cl":-0.6,"ch":-0.48},
{"t":7000,"a":-0.52,"al":-0.54,"ah":-0.5,"b":-0.65,"bl":-0.75,"bh":-0.55,"c":-0.48,"cl":-0.52,"ch":-0.42},
{"t":8000,"a":-0.49,"al":-0.51,"ah":-0.47,"b":-0.6,"bl":-0.7,"bh":-0.5,"c":-0.45,"cl":-0.5,"ch":-0.4},
{"t":10000,"a":-0.42,"al":-0.44,"ah":-0.4,"b":-0.57,"bl":-0.62,"bh":-0.45,"c":-0.4,"cl":-0.45,"ch":-0.37},
{"t":12000,"a":-0.39,"al":-0.41,"ah":-0.37,"b":-0.48,"bl":-0.55,"bh":-0.4,"c":-0.37,"cl":-0.42,"ch":-0.35},
{"t":15000,"a":-0.37,"al":-0.385,"ah":-0.355,"b":-0.42,"bl":-0.48,"bh":-0.36,"c":-0.36,"cl":-0.5,"ch":-0.33},
{"t":18000,"a":-0.35,"al":-0.365,"ah":-0.335,"b":-0.37,"bl":-0.42,"bh":-0.33,"c":-0.38,"cl":-0.45,"ch":-0.33},
{"t":20000,"a":-0.34,"al":-0.355,"ah":-0.325,"b":-0.35,"bl":-0.38,"bh":-0.32,"c":-0.36,"cl":-0.4,"ch":-0.33},
{"t":25000,"a":-0.32,"al":-0.335,"ah":-0.305,"b":-0.33,"bl":-0.35,"bh":-0.3,"c":-0.37,"cl":-0.42,"ch":-0.31},
{"t":30000,"a":-0.31,"al":-0.32,"ah":-0.3,"b":-0.31,"bl":-0.33,"bh":-0.29,"c":-0.35,"cl":-0.4,"ch":-0.3},
{"t":40000,"a":-0.3,"al":-0.31,"ah":-0.29,"b":-0.3,"bl":-0.32,"bh":-0.28,"c":-0.32,"cl":-0.38,"ch":-0.28},
{"t":50000,"a":-0.295,"al":-0.305,"ah":-0.285,"b":-0.29,"bl":-0.32,"bh":-0.26,"c":-0.3,"cl":-0.35,"ch":-0.27},
{"t":60000,"a":-0.29,"al":-0.3,"ah":-0.28,"b":-0.285,"bl":-0.3,"bh":-0.27,"c":-0.29,"cl":-0.33,"ch":-0.27},
{"t":62000,"a":-0.29,"al":-0.3,"ah":-0.28,"b":-0.285,"bl":-0.3,"bh":-0.27,"c":-0.3,"cl":-0.43,"ch":-0.27},
{"t":70000,"a":-0.288,"al":-0.298,"ah":-0.278,"b":-0.285,"bl":-0.3,"bh":-0.27,"c":-0.285,"cl":-0.33,"ch":-0.27},
{"t":80000,"a":-0.285,"al":-0.295,"ah":-0.275,"b":-0.285,"bl":-0.3,"bh":-0.27,"c":-0.28,"cl":-0.32,"ch":-0.26},
{"t":85000,"a":-0.283,"al":-0.293,"ah":-0.273,"b":-0.285,"bl":-0.3,"bh":-0.27,"c":-0.27,"cl":-0.38,"ch":-0.25},
{"t":90000,"a":-0.28,"al":-0.29,"ah":-0.27,"b":-0.285,"bl":-0.3,"bh":-0.27,"c":-0.265,"cl":-0.3,"ch":-0.245},
{"t":100000,"a":-0.275,"al":-0.285,"ah":-0.265,"b":-0.285,"bl":-0.3,"bh":-0.27,"c":-0.26,"cl":-0.29,"ch":-0.24},
{"t":120000,"a":-0.265,"al":-0.275,"ah":-0.255,"b":-0.28,"bl":-0.295,"bh":-0.265,"c":-0.24,"cl":-0.26,"ch":-0.225},
{"t":150000,"a":-0.255,"al":-0.265,"ah":-0.245,"b":-0.275,"bl":-0.29,"bh":-0.26,"c":-0.235,"cl":-0.25,"ch":-0.22},
{"t":200000,"a":-0.25,"al":-0.26,"ah":-0.24,"b":-0.265,"bl":-0.28,"bh":-0.25,"c":-0.22,"cl":-0.235,"ch":-0.205},
{"t":230000,"a":-0.248,"al":-0.258,"ah":-0.238,"b":-0.26,"bl":-0.275,"bh":-0.245,"c":-0.21,"cl":-0.225,"ch":-0.195},
{"t":256000,"a":-0.245,"al":-0.255,"ah":-0.235,"b":-0.26,"bl":-0.27,"bh":-0.245,"c":-0.195,"cl":-0.21,"ch":-0.185}
],
"g": [
{"t":0,"a":0,"al":-0.01,"ah":0.01,"b":0,"bl":-0.02,"bh":0.01,"c":0,"cl":-0.01,"ch":0.01},
{"t":2000,"a":0.02,"al":-0.02,"ah":0.05,"b":-0.02,"bl":-0.03,"bh":0.02,"c":0.01,"cl":-0.01,"ch":0.04},
{"t":4000,"a":0.15,"al":0.05,"ah":0.25,"b":0.1,"bl":-0.01,"bh":0.25,"c":0.15,"cl":0.05,"ch":0.28},
{"t":6000,"a":0.35,"al":0.25,"ah":0.42,"b":0.35,"bl":0.2,"bh":0.42,"c":0.35,"cl":0.25,"ch":0.42},
{"t":8000,"a":0.45,"al":0.4,"ah":0.5,"b":0.4,"bl":0.3,"bh":0.45,"c":0.42,"cl":0.35,"ch":0.46},
{"t":10000,"a":0.49,"al":0.42,"ah":0.53,"b":0.3,"bl":0.22,"bh":0.42,"c":0.43,"cl":0.38,"ch":0.48},
{"t":12000,"a":0.48,"al":0.4,"ah":0.52,"b":0.27,"bl":0.2,"bh":0.45,"c":0.42,"cl":0.35,"ch":0.46},
{"t":14000,"a":0.4,"al":0.2,"ah":0.48,"b":0.24,"bl":0.15,"bh":0.4,"c":0.35,"cl":0.28,"ch":0.42},
{"t":16000,"a":0.3,"al":0.0,"ah":0.4,"b":0.22,"bl":0.12,"bh":0.33,"c":0.3,"cl":0.1,"ch":0.38},
{"t":18000,"a":0.22,"al":-0.25,"ah":0.35,"b":0.19,"bl":0.1,"bh":0.27,"c":0.22,"cl":0.02,"ch":0.32},
{"t":20000,"a":0.18,"al":-0.1,"ah":0.3,"b":0.16,"bl":0.1,"bh":0.22,"c":0.18,"cl":0.08,"ch":0.25},
{"t":22000,"a":0.17,"al":0.0,"ah":0.25,"b":0.16,"bl":0.08,"bh":0.21,"c":0.15,"cl":0.08,"ch":0.2},
{"t":25000,"a":0.17,"al":0.1,"ah":0.22,"b":0.15,"bl":0.05,"bh":0.2,"c":0.14,"cl":0.06,"ch":0.22},
{"t":28000,"a":0.15,"al":0.12,"ah":0.34,"b":0.14,"bl":0.1,"bh":0.18,"c":0.12,"cl":0.1,"ch":0.2},
{"t":30000,"a":0.14,"al":0.11,"ah":0.32,"b":0.14,"bl":0.12,"bh":0.16,"c":0.11,"cl":0.1,"ch":0.2},
{"t":35000,"a":0.13,"al":0.1,"ah":0.22,"b":0.13,"bl":0.1,"bh":0.16,"c":0.12,"cl":-0.09,"ch":0.14},
{"t":38000,"a":0.125,"al":0.09,"ah":0.2,"b":0.125,"bl":0.1,"bh":0.15,"c":0.12,"cl":0.05,"ch":0.2},
{"t":40000,"a":0.12,"al":0.08,"ah":0.18,"b":0.12,"bl":0.1,"bh":0.14,"c":0.12,"cl":0.08,"ch":0.23},
{"t":45000,"a":0.11,"al":0.06,"ah":0.16,"b":0.12,"bl":0.1,"bh":0.14,"c":0.12,"cl":0.1,"ch":0.2},
{"t":50000,"a":0.12,"al":0.04,"ah":0.15,"b":0.12,"bl":0.06,"bh":0.15,"c":0.12,"cl":0.08,"ch":0.15},
{"t":55000,"a":0.12,"al":0.08,"ah":0.15,"b":0.12,"bl":0.03,"bh":0.18,"c":0.12,"cl":0.05,"ch":0.14},
{"t":58000,"a":0.125,"al":0.09,"ah":0.155,"b":0.12,"bl":0.01,"bh":0.19,"c":0.12,"cl":-0.09,"ch":0.14},
{"t":60000,"a":0.13,"al":0.1,"ah":0.16,"b":0.12,"bl":0.0,"bh":0.2,"c":0.12,"cl":0.05,"ch":0.15},
{"t":65000,"a":0.13,"al":0.1,"ah":0.16,"b":0.115,"bl":-0.05,"bh":0.15,"c":0.12,"cl":0.1,"ch":0.16},
{"t":70000,"a":0.135,"al":0.11,"ah":0.16,"b":0.11,"bl":-0.15,"bh":0.12,"c":0.125,"cl":0.1,"ch":0.15},
{"t":73000,"a":0.135,"al":0.1,"ah":0.16,"b":0.07,"bl":-0.05,"bh":0.15,"c":0.125,"cl":0.1,"ch":0.15},
{"t":75000,"a":0.135,"al":0.08,"ah":0.16,"b":0.07,"bl":0.0,"bh":0.17,"c":0.12,"cl":0.1,"ch":0.14},
{"t":80000,"a":0.14,"al":0.05,"ah":0.15,"b":0.11,"bl":0.05,"bh":0.23,"c":0.12,"cl":0.1,"ch":0.14},
{"t":85000,"a":0.14,"al":0.04,"ah":0.15,"b":0.115,"bl":0.05,"bh":0.25,"c":0.12,"cl":0.1,"ch":0.14},
{"t":90000,"a":0.135,"al":0.08,"ah":0.15,"b":0.12,"bl":0.03,"bh":0.2,"c":0.115,"cl":0.1,"ch":0.14},
{"t":95000,"a":0.13,"al":0.1,"ah":0.155,"b":0.12,"bl":-0.2,"bh":0.15,"c":0.12,"cl":0.09,"ch":0.14},
{"t":98000,"a":0.13,"al":0.1,"ah":0.16,"b":0.11,"bl":-0.34,"bh":0.14,"c":0.12,"cl":0.08,"ch":0.14},
{"t":100000,"a":0.13,"al":0.1,"ah":0.16,"b":0.1,"bl":-0.15,"bh":0.13,"c":0.12,"cl":0.08,"ch":0.14},
{"t":102000,"a":0.13,"al":0.1,"ah":0.155,"b":0.0,"bl":-0.1,"bh":0.13,"c":0.12,"cl":0.09,"ch":0.14},
{"t":105000,"a":0.13,"al":0.1,"ah":0.15,"b":-0.04,"bl":-0.12,"bh":0.12,"c":0.12,"cl":0.1,"ch":0.14},
{"t":108000,"a":0.13,"al":0.1,"ah":0.15,"b":-0.03,"bl":-0.17,"bh":0.12,"c":0.12,"cl":0.1,"ch":0.14},
{"t":110000,"a":0.13,"al":0.1,"ah":0.15,"b":0.1,"bl":0.05,"bh":0.15,"c":0.12,"cl":0.1,"ch":0.14},
{"t":115000,"a":0.13,"al":0.1,"ah":0.155,"b":0.11,"bl":0.06,"bh":0.17,"c":0.12,"cl":0.1,"ch":0.14},
{"t":120000,"a":0.13,"al":0.1,"ah":0.16,"b":0.12,"bl":0.05,"bh":0.23,"c":0.125,"cl":0.1,"ch":0.14},
{"t":125000,"a":0.13,"al":0.1,"ah":0.16,"b":0.125,"bl":-0.03,"bh":0.26,"c":0.125,"cl":0.1,"ch":0.145},
{"t":130000,"a":0.135,"al":0.1,"ah":0.16,"b":0.13,"bl":-0.02,"bh":0.2,"c":0.125,"cl":0.1,"ch":0.15},
{"t":135000,"a":0.135,"al":0.1,"ah":0.16,"b":0.13,"bl":0.05,"bh":0.16,"c":0.13,"cl":0.1,"ch":0.15},
{"t":140000,"a":0.14,"al":0.1,"ah":0.16,"b":0.13,"bl":0.02,"bh":0.19,"c":0.13,"cl":0.11,"ch":0.15},
{"t":150000,"a":0.14,"al":0.1,"ah":0.16,"b":0.12,"bl":0.1,"bh":0.15,"c":0.13,"cl":0.1,"ch":0.15},
{"t":160000,"a":0.13,"al":0.1,"ah":0.16,"b":0.12,"bl":0.05,"bh":0.16,"c":0.13,"cl":0.1,"ch":0.16},
{"t":170000,"a":0.13,"al":0.11,"ah":0.15,"b":0.12,"bl":0.06,"bh":0.16,"c":0.13,"cl":0.1,"ch":0.15},
{"t":180000,"a":0.13,"al":0.1,"ah":0.16,"b":0.125,"bl":0.05,"bh":0.16,"c":0.12,"cl":0.1,"ch":0.15},
{"t":190000,"a":0.14,"al":0.11,"ah":0.16,"b":0.14,"bl":0.07,"bh":0.16,"c":0.14,"cl":0.1,"ch":0.15},
{"t":200000,"a":0.13,"al":0.11,"ah":0.15,"b":0.13,"bl":0.1,"bh":0.16,"c":0.12,"cl":0.1,"ch":0.14},
{"t":210000,"a":0.145,"al":0.12,"ah":0.17,"b":0.12,"bl":0.06,"bh":0.15,"c":0.13,"cl":0.1,"ch":0.15},
{"t":215000,"a":0.15,"al":0.12,"ah":0.18,"b":0.115,"bl":0.07,"bh":0.15,"c":0.12,"cl":0.09,"ch":0.14},
{"t":220000,"a":0.135,"al":0.11,"ah":0.16,"b":0.12,"bl":0.07,"bh":0.15,"c":0.13,"cl":0.11,"ch":0.15},
{"t":230000,"a":0.125,"al":0.1,"ah":0.15,"b":0.11,"bl":0.06,"bh":0.15,"c":0.13,"cl":0.11,"ch":0.15},
{"t":240000,"a":0.14,"al":0.11,"ah":0.17,"b":0.12,"bl":0.08,"bh":0.14,"c":0.14,"cl":0.11,"ch":0.16},
{"t":250000,"a":0.135,"al":0.11,"ah":0.17,"b":0.13,"bl":0.1,"bh":0.15,"c":0.13,"cl":0.11,"ch":0.15},
{"t":256000,"a":0.13,"al":0.11,"ah":0.15,"b":0.12,"bl":0.1,"bh":0.14,"c":0.13,"cl":0.11,"ch":0.15}
],
"h": [
{"t":0,"a":-0.52,"al":-0.55,"ah":-0.5,"b":-0.55,"bl":-0.56,"bh":-0.54,"c":-0.5,"cl":-0.52,"ch":-0.48},
{"t":2000,"a":-0.4,"al":-0.45,"ah":-0.3,"b":-0.35,"bl":-0.45,"bh":-0.2,"c":-0.35,"cl":-0.4,"ch":-0.25},
{"t":4000,"a":-0.2,"al":-0.3,"ah":-0.1,"b":-0.1,"bl":-0.25,"bh":0.05,"c":-0.25,"cl":-0.35,"ch":-0.1},
{"t":6000,"a":-0.05,"al":-0.15,"ah":0.05,"b":0.05,"bl":-0.05,"bh":0.15,"c":-0.22,"cl":-0.36,"ch":0.0},
{"t":8000,"a":0.05,"al":-0.05,"ah":0.1,"b":0.1,"bl":0.0,"bh":0.2,"c":-0.2,"cl":-0.35,"ch":0.05},
{"t":10000,"a":0.1,"al":0.0,"ah":0.15,"b":0.1,"bl":0.02,"bh":0.25,"c":-0.15,"cl":-0.3,"ch":0.1},
{"t":12000,"a":0.12,"al":0.02,"ah":0.2,"b":0.12,"bl":0.05,"bh":0.27,"c":-0.05,"cl":-0.2,"ch":0.08},
{"t":15000,"a":0.13,"al":0.03,"ah":0.22,"b":0.14,"bl":0.05,"bh":0.27,"c":0.05,"cl":-0.1,"ch":0.1},
{"t":18000,"a":0.12,"al":0.02,"ah":0.2,"b":0.17,"bl":0.1,"bh":0.22,"c":0.1,"cl":-0.05,"ch":0.15},
{"t":20000,"a":0.1,"al":0.0,"ah":0.17,"b":0.14,"bl":0.08,"bh":0.23,"c":0.13,"cl":-0.03,"ch":0.17},
{"t":22000,"a":0.05,"al":-0.03,"ah":0.13,"b":0.1,"bl":0.02,"bh":0.2,"c":0.1,"cl":-0.02,"ch":0.15},
{"t":25000,"a":0.01,"al":-0.06,"ah":0.1,"b":0.07,"bl":0.0,"bh":0.18,"c":0.04,"cl":-0.05,"ch":0.12},
{"t":28000,"a":-0.01,"al":-0.06,"ah":0.06,"b":0.04,"bl":-0.02,"bh":0.15,"c":0.0,"cl":-0.07,"ch":0.18},
{"t":30000,"a":-0.02,"al":-0.07,"ah":0.04,"b":0.02,"bl":-0.02,"bh":0.12,"c":-0.02,"cl":-0.08,"ch":0.05},
{"t":35000,"a":-0.03,"al":-0.06,"ah":0.02,"b":0.0,"bl":-0.03,"bh":0.05,"c":-0.08,"cl":-0.1,"ch":0.0},
{"t":40000,"a":-0.02,"al":-0.06,"ah":0.0,"b":-0.02,"bl":-0.03,"bh":0.02,"c":-0.06,"cl":-0.12,"ch":0.03},
{"t":45000,"a":-0.01,"al":-0.07,"ah":0.03,"b":-0.02,"bl":-0.05,"bh":0.02,"c":-0.05,"cl":-0.1,"ch":0.05},
{"t":50000,"a":-0.02,"al":-0.09,"ah":0.04,"b":-0.03,"bl":-0.06,"bh":0.03,"c":-0.02,"cl":-0.08,"ch":0.1},
{"t":52000,"a":-0.02,"al":-0.08,"ah":0.04,"b":-0.02,"bl":-0.06,"bh":0.03,"c":-0.01,"cl":-0.06,"ch":0.18},
{"t":55000,"a":-0.02,"al":-0.06,"ah":0.04,"b":-0.01,"bl":-0.05,"bh":0.04,"c":0.0,"cl":-0.04,"ch":0.1},
{"t":60000,"a":-0.01,"al":-0.05,"ah":0.05,"b":0.0,"bl":-0.04,"bh":0.06,"c":0.04,"cl":-0.03,"ch":0.15},
{"t":63000,"a":0.0,"al":-0.04,"ah":0.05,"b":0.01,"bl":-0.03,"bh":0.06,"c":0.1,"cl":-0.02,"ch":0.19},
{"t":65000,"a":0.0,"al":-0.03,"ah":0.05,"b":0.02,"bl":-0.03,"bh":0.07,"c":0.05,"cl":-0.04,"ch":0.12},
{"t":68000,"a":0.01,"al":-0.03,"ah":0.06,"b":0.02,"bl":-0.02,"bh":0.1,"c":0.02,"cl":-0.05,"ch":0.1},
{"t":70000,"a":0.01,"al":-0.03,"ah":0.06,"b":0.02,"bl":-0.02,"bh":0.12,"c":0.0,"cl":-0.1,"ch":0.08},
{"t":72000,"a":0.015,"al":-0.02,"ah":0.06,"b":0.02,"bl":-0.02,"bh":0.11,"c":0.05,"cl":-0.12,"ch":0.12},
{"t":75000,"a":0.02,"al":-0.02,"ah":0.07,"b":0.02,"bl":-0.02,"bh":0.1,"c":0.0,"cl":-0.17,"ch":0.05},
{"t":78000,"a":0.02,"al":-0.02,"ah":0.07,"b":0.025,"bl":-0.03,"bh":0.09,"c":-0.06,"cl":-0.19,"ch":0.02},
{"t":80000,"a":0.02,"al":-0.03,"ah":0.06,"b":0.03,"bl":-0.03,"bh":0.08,"c":-0.04,"cl":-0.12,"ch":0.03},
{"t":83000,"a":0.02,"al":-0.03,"ah":0.06,"b":0.025,"bl":-0.04,"bh":0.09,"c":0.0,"cl":-0.08,"ch":0.06},
{"t":85000,"a":0.02,"al":-0.02,"ah":0.06,"b":0.02,"bl":-0.05,"bh":0.1,"c":0.03,"cl":-0.05,"ch":0.29},
{"t":88000,"a":0.02,"al":-0.02,"ah":0.06,"b":0.02,"bl":-0.05,"bh":0.1,"c":0.02,"cl":-0.12,"ch":0.1},
{"t":90000,"a":0.02,"al":-0.02,"ah":0.06,"b":0.02,"bl":-0.05,"bh":0.1,"c":0.0,"cl":-0.15,"ch":0.06},
{"t":95000,"a":0.02,"al":-0.03,"ah":0.05,"b":0.015,"bl":-0.05,"bh":0.08,"c":-0.01,"cl":-0.06,"ch":0.05},
{"t":100000,"a":0.02,"al":-0.03,"ah":0.05,"b":0.01,"bl":-0.04,"bh":0.06,"c":0.0,"cl":-0.07,"ch":0.04},
{"t":110000,"a":0.02,"al":-0.02,"ah":0.06,"b":0.02,"bl":-0.02,"bh":0.07,"c":-0.01,"cl":-0.05,"ch":0.04},
{"t":120000,"a":0.03,"al":-0.03,"ah":0.07,"b":0.04,"bl":0.0,"bh":0.16,"c":-0.02,"cl":-0.1,"ch":0.05},
{"t":130000,"a":0.03,"al":-0.02,"ah":0.08,"b":0.04,"bl":0.0,"bh":0.07,"c":-0.01,"cl":-0.06,"ch":0.06},
{"t":140000,"a":0.02,"al":-0.05,"ah":0.08,"b":0.04,"bl":-0.01,"bh":0.08,"c":-0.02,"cl":-0.12,"ch":0.03},
{"t":150000,"a":0.02,"al":-0.08,"ah":0.07,"b":0.05,"bl":0.02,"bh":0.1,"c":-0.01,"cl":-0.04,"ch":0.07},
{"t":160000,"a":0.02,"al":-0.1,"ah":0.08,"b":0.06,"bl":0.02,"bh":0.1,"c":0.01,"cl":-0.05,"ch":0.06},
{"t":170000,"a":0.03,"al":-0.13,"ah":0.08,"b":0.05,"bl":0.0,"bh":0.08,"c":0.02,"cl":-0.06,"ch":0.07},
{"t":175000,"a":0.035,"al":-0.05,"ah":0.09,"b":0.05,"bl":0.0,"bh":0.09,"c":0.01,"cl":-0.06,"ch":0.05},
{"t":180000,"a":0.04,"al":-0.02,"ah":0.09,"b":0.05,"bl":0.0,"bh":0.1,"c":0.0,"cl":-0.06,"ch":0.04},
{"t":190000,"a":0.04,"al":0.0,"ah":0.09,"b":0.04,"bl":0.0,"bh":0.09,"c":-0.01,"cl":-0.05,"ch":0.05},
{"t":200000,"a":0.04,"al":0.0,"ah":0.08,"b":0.04,"bl":0.01,"bh":0.07,"c":0.0,"cl":-0.06,"ch":0.06},
{"t":210000,"a":0.04,"al":0.0,"ah":0.08,"b":0.04,"bl":0.02,"bh":0.07,"c":-0.02,"cl":-0.06,"ch":0.05},
{"t":220000,"a":0.04,"al":0.0,"ah":0.07,"b":0.05,"bl":0.01,"bh":0.1,"c":-0.01,"cl":-0.05,"ch":0.06},
{"t":230000,"a":0.03,"al":-0.01,"ah":0.06,"b":0.06,"bl":0.02,"bh":0.12,"c":-0.01,"cl":-0.1,"ch":0.07},
{"t":240000,"a":0.03,"al":-0.01,"ah":0.07,"b":0.05,"bl":0.0,"bh":0.12,"c":0.0,"cl":-0.04,"ch":0.06},
{"t":250000,"a":0.04,"al":-0.03,"ah":0.08,"b":0.03,"bl":-0.05,"bh":0.11,"c":-0.01,"cl":-0.04,"ch":0.09},
{"t":256000,"a":0.04,"al":-0.05,"ah":0.13,"b":0.0,"bl":-0.09,"bh":0.1,"c":-0.03,"cl":-0.06,"ch":0.16}
]
},
"concat": [
{"title": {"text": "(a)\u2002Pendulum", "orient": "bottom", "anchor": "middle", "font": "Liberation Serif", "fontSize": 24, "offset": 15},
 "resolve": {"scale": {"color": "independent"}},
 "vconcat": [{
  "title": {"text": "Bayesian A2C fixed std comparison on Pendulum-v1", "anchor": "middle"},
  "width": 442, "height": 266,
  "data": {"name": "a"},
  "encoding": {"x": {"field": "t", "type": "quantitative", "title": "Timesteps", "scale": {"domain": [-7680, 263680], "nice": false, "zero": false}, "axis": {"values": [0, 50000, 100000, 150000, 200000, 250000], "labelExpr": "datum.value == 0 ? '0' : datum.value == 50000 ? '5.00×10⁴' : datum.value == 100000 ? '1.00×10⁵' : datum.value == 150000 ? '1.50×10⁵' : datum.value == 200000 ? '2.00×10⁵' : '2.50×10⁵'", "labelFlush": false, "labelOverlap": false}}},
  "layer": [
   {"mark": {"type": "area", "opacity": 0.5, "clip": true}, "encoding": {"y": {"field": "al", "type": "quantitative", "title": "Sliding Reward", "scale": {"domain": [-8.42, -1.54], "nice": false, "zero": false}, "axis": {"values": [-8, -7, -6, -5, -4, -3, -2], "format": "d"}}, "y2": {"field": "ah"}, "color": {"datum": "Bayesian Message Passing Actor/Critic", "scale": {"domain": ["Bayesian Message Passing Actor/Critic", "Bayesian MP Actor/Critic ignore std", "PyTorch NN Actor/Critic"], "range": ["#0000ff", "#a52a2a", "#008000"]}, "legend": {"title": null}}}},
   {"mark": {"type": "line", "strokeWidth": 1.4, "clip": true}, "encoding": {"y": {"field": "a", "type": "quantitative", "title": "Sliding Reward"}, "color": {"datum": "Bayesian Message Passing Actor/Critic"}}},
   {"mark": {"type": "area", "opacity": 0.5, "clip": true}, "encoding": {"y": {"field": "bl", "type": "quantitative", "title": "Sliding Reward"}, "y2": {"field": "bh"}, "color": {"datum": "Bayesian MP Actor/Critic ignore std"}}},
   {"mark": {"type": "line", "strokeWidth": 1.4, "clip": true}, "encoding": {"y": {"field": "b", "type": "quantitative", "title": "Sliding Reward"}, "color": {"datum": "Bayesian MP Actor/Critic ignore std"}}},
   {"mark": {"type": "area", "opacity": 0.5, "clip": true}, "encoding": {"y": {"field": "cl", "type": "quantitative", "title": "Sliding Reward"}, "y2": {"field": "ch"}, "color": {"datum": "PyTorch NN Actor/Critic"}}},
   {"mark": {"type": "line", "strokeWidth": 1.4, "clip": true}, "encoding": {"y": {"field": "c", "type": "quantitative", "title": "Sliding Reward"}, "color": {"datum": "PyTorch NN Actor/Critic"}}}
  ]
 }]
},
{"title": {"text": "(b)\u2002Mountain Car Continuous", "orient": "bottom", "anchor": "middle", "font": "Liberation Serif", "fontSize": 24, "offset": 15},
 "resolve": {"scale": {"color": "independent"}},
 "vconcat": [{
  "title": {"text": "ayesian A2C fixed std comparison on MountainCarContinu", "anchor": "end", "dx": 14},
  "width": 430, "height": 266,
  "data": {"name": "b"},
  "encoding": {"x": {"field": "t", "type": "quantitative", "title": "Timesteps", "scale": {"domain": [-7680, 263680], "nice": false, "zero": false}, "axis": {"values": [0, 50000, 100000, 150000, 200000, 250000], "labelExpr": "datum.value == 0 ? '0' : datum.value == 50000 ? '5.00×10⁴' : datum.value == 100000 ? '1.00×10⁵' : datum.value == 150000 ? '1.50×10⁵' : datum.value == 200000 ? '2.00×10⁵' : '2.50×10⁵'", "labelFlush": false, "labelOverlap": false}}},
  "layer": [
   {"mark": {"type": "area", "opacity": 0.5, "clip": true}, "encoding": {"y": {"field": "al", "type": "quantitative", "title": "Sliding Reward", "scale": {"domain": [-0.0648, 0.0012], "nice": false, "zero": false}, "axis": {"values": [-0.06, -0.05, -0.04, -0.03, -0.02, -0.01, 0], "format": ".2f"}}, "y2": {"field": "ah"}, "color": {"datum": "Bayesian Message Passing Actor/Critic", "scale": {"domain": ["Bayesian Message Passing Actor/Critic", "Bayesian MP Actor/Critic ignore std", "PyTorch NN Actor/Critic"], "range": ["#0000ff", "#a52a2a", "#008000"]}, "legend": {"title": null}}}},
   {"mark": {"type": "line", "strokeWidth": 1.4, "clip": true}, "encoding": {"y": {"field": "a", "type": "quantitative", "title": "Sliding Reward"}, "color": {"datum": "Bayesian Message Passing Actor/Critic"}}},
   {"mark": {"type": "area", "opacity": 0.5, "clip": true}, "encoding": {"y": {"field": "bl", "type": "quantitative", "title": "Sliding Reward"}, "y2": {"field": "bh"}, "color": {"datum": "Bayesian MP Actor/Critic ignore std"}}},
   {"mark": {"type": "line", "strokeWidth": 1.4, "clip": true}, "encoding": {"y": {"field": "b", "type": "quantitative", "title": "Sliding Reward"}, "color": {"datum": "Bayesian MP Actor/Critic ignore std"}}},
   {"mark": {"type": "area", "opacity": 0.5, "clip": true}, "encoding": {"y": {"field": "cl", "type": "quantitative", "title": "Sliding Reward"}, "y2": {"field": "ch"}, "color": {"datum": "PyTorch NN Actor/Critic"}}},
   {"mark": {"type": "line", "strokeWidth": 1.4, "clip": true}, "encoding": {"y": {"field": "c", "type": "quantitative", "title": "Sliding Reward"}, "color": {"datum": "PyTorch NN Actor/Critic"}}}
  ]
 }]
},
{"title": {"text": "(c)\u2002Bipedal Walker", "orient": "bottom", "anchor": "middle", "font": "Liberation Serif", "fontSize": 24, "offset": 15},
 "resolve": {"scale": {"color": "independent"}},
 "vconcat": [{
  "title": {"text": "Bayesian A2C fixed std comparison on BipedalWalker-v", "anchor": "end", "dx": 10},
  "width": 442, "height": 266,
  "data": {"name": "c"},
  "encoding": {"x": {"field": "t", "type": "quantitative", "title": "Timesteps", "scale": {"domain": [-7680, 263680], "nice": false, "zero": false}, "axis": {"values": [0, 50000, 100000, 150000, 200000, 250000], "labelExpr": "datum.value == 0 ? '0' : datum.value == 50000 ? '5.00×10⁴' : datum.value == 100000 ? '1.00×10⁵' : datum.value == 150000 ? '1.50×10⁵' : datum.value == 200000 ? '2.00×10⁵' : '2.50×10⁵'", "labelFlush": false, "labelOverlap": false}}},
  "layer": [
   {"mark": {"type": "area", "opacity": 0.5, "clip": true}, "encoding": {"y": {"field": "al", "type": "quantitative", "title": "Sliding Reward", "scale": {"domain": [-2.562, 0.079], "nice": false, "zero": false}, "axis": {"values": [-2.5, -2, -1.5, -1, -0.5, 0], "format": ".1f"}}, "y2": {"field": "ah"}, "color": {"datum": "Bayesian Message Passing Actor/Critic", "scale": {"domain": ["Bayesian Message Passing Actor/Critic", "Bayesian MP Actor/Critic ignore std", "PyTorch NN Actor/Critic"], "range": ["#0000ff", "#a52a2a", "#008000"]}, "legend": {"title": null}}}},
   {"mark": {"type": "line", "strokeWidth": 1.4, "clip": true}, "encoding": {"y": {"field": "a", "type": "quantitative", "title": "Sliding Reward"}, "color": {"datum": "Bayesian Message Passing Actor/Critic"}}},
   {"mark": {"type": "area", "opacity": 0.5, "clip": true}, "encoding": {"y": {"field": "bl", "type": "quantitative", "title": "Sliding Reward"}, "y2": {"field": "bh"}, "color": {"datum": "Bayesian MP Actor/Critic ignore std"}}},
   {"mark": {"type": "line", "strokeWidth": 1.4, "clip": true}, "encoding": {"y": {"field": "b", "type": "quantitative", "title": "Sliding Reward"}, "color": {"datum": "Bayesian MP Actor/Critic ignore std"}}},
   {"mark": {"type": "area", "opacity": 0.5, "clip": true}, "encoding": {"y": {"field": "cl", "type": "quantitative", "title": "Sliding Reward"}, "y2": {"field": "ch"}, "color": {"datum": "PyTorch NN Actor/Critic"}}},
   {"mark": {"type": "line", "strokeWidth": 1.4, "clip": true}, "encoding": {"y": {"field": "c", "type": "quantitative", "title": "Sliding Reward"}, "color": {"datum": "PyTorch NN Actor/Critic"}}}
  ]
 }]
},
{"title": {"text": "(d)\u2002Inverted Pendulum", "orient": "bottom", "anchor": "middle", "font": "Liberation Serif", "fontSize": 24, "offset": 15},
 "resolve": {"scale": {"color": "independent"}},
 "vconcat": [{
  "title": {"text": "Bayesian A2C fixed std comparison on InvertedPendulum", "anchor": "end", "dx": 14},
  "width": 430, "height": 266,
  "data": {"name": "d"},
  "encoding": {"x": {"field": "t", "type": "quantitative", "title": "Timesteps", "scale": {"domain": [-7680, 263680], "nice": false, "zero": false}, "axis": {"values": [0, 50000, 100000, 150000, 200000, 250000], "labelExpr": "datum.value == 0 ? '0' : datum.value == 50000 ? '5.00×10⁴' : datum.value == 100000 ? '1.00×10⁵' : datum.value == 150000 ? '1.50×10⁵' : datum.value == 200000 ? '2.00×10⁵' : '2.50×10⁵'", "labelFlush": false, "labelOverlap": false}}},
  "layer": [
   {"mark": {"type": "area", "opacity": 0.5, "clip": true}, "encoding": {"y": {"field": "al", "type": "quantitative", "title": "Sliding Reward", "scale": {"domain": [0.647, 1.0113], "nice": false, "zero": false}, "axis": {"values": [0.7, 0.8, 0.9, 1.0], "format": ".1f"}}, "y2": {"field": "ah"}, "color": {"datum": "Bayesian Message Passing Actor/Critic", "scale": {"domain": ["Bayesian Message Passing Actor/Critic", "Bayesian MP Actor/Critic ignore std", "PyTorch NN Actor/Critic"], "range": ["#0000ff", "#a52a2a", "#008000"]}, "legend": {"title": null}}}},
   {"mark": {"type": "line", "strokeWidth": 1.4, "clip": true}, "encoding": {"y": {"field": "a", "type": "quantitative", "title": "Sliding Reward"}, "color": {"datum": "Bayesian Message Passing Actor/Critic"}}},
   {"mark": {"type": "area", "opacity": 0.5, "clip": true}, "encoding": {"y": {"field": "bl", "type": "quantitative", "title": "Sliding Reward"}, "y2": {"field": "bh"}, "color": {"datum": "Bayesian MP Actor/Critic ignore std"}}},
   {"mark": {"type": "line", "strokeWidth": 1.4, "clip": true}, "encoding": {"y": {"field": "b", "type": "quantitative", "title": "Sliding Reward"}, "color": {"datum": "Bayesian MP Actor/Critic ignore std"}}},
   {"mark": {"type": "area", "opacity": 0.5, "clip": true}, "encoding": {"y": {"field": "cl", "type": "quantitative", "title": "Sliding Reward"}, "y2": {"field": "ch"}, "color": {"datum": "PyTorch NN Actor/Critic"}}},
   {"mark": {"type": "line", "strokeWidth": 1.4, "clip": true}, "encoding": {"y": {"field": "c", "type": "quantitative", "title": "Sliding Reward"}, "color": {"datum": "PyTorch NN Actor/Critic"}}}
  ]
 }]
},
{"title": {"text": "(e)\u2002Inverted Double Pendulum", "orient": "bottom", "anchor": "middle", "font": "Liberation Serif", "fontSize": 24, "offset": 15},
 "resolve": {"scale": {"color": "independent"}},
 "vconcat": [{
  "title": {"text": "yesian A2C fixed std comparison on InvertedDoublePendu", "anchor": "end", "dx": 10},
  "width": 442, "height": 266,
  "data": {"name": "e"},
  "encoding": {"x": {"field": "t", "type": "quantitative", "title": "Timesteps", "scale": {"domain": [-7680, 263680], "nice": false, "zero": false}, "axis": {"values": [0, 50000, 100000, 150000, 200000, 250000], "labelExpr": "datum.value == 0 ? '0' : datum.value == 50000 ? '5.00×10⁴' : datum.value == 100000 ? '1.00×10⁵' : datum.value == 150000 ? '1.50×10⁵' : datum.value == 200000 ? '2.00×10⁵' : '2.50×10⁵'", "labelFlush": false, "labelOverlap": false}}},
  "layer": [
   {"mark": {"type": "area", "opacity": 0.5, "clip": true}, "encoding": {"y": {"field": "al", "type": "quantitative", "title": "Sliding Reward", "scale": {"domain": [6.405, 9.331], "nice": false, "zero": false}, "axis": {"values": [6.5, 7, 7.5, 8, 8.5, 9], "format": ".1f"}}, "y2": {"field": "ah"}, "color": {"datum": "Bayesian Message Passing Actor/Critic", "scale": {"domain": ["Bayesian Message Passing Actor/Critic", "Bayesian MP Actor/Critic ignore std", "PyTorch NN Actor/Critic"], "range": ["#0000ff", "#a52a2a", "#008000"]}, "legend": {"title": null}}}},
   {"mark": {"type": "line", "strokeWidth": 1.4, "clip": true}, "encoding": {"y": {"field": "a", "type": "quantitative", "title": "Sliding Reward"}, "color": {"datum": "Bayesian Message Passing Actor/Critic"}}},
   {"mark": {"type": "area", "opacity": 0.5, "clip": true}, "encoding": {"y": {"field": "bl", "type": "quantitative", "title": "Sliding Reward"}, "y2": {"field": "bh"}, "color": {"datum": "Bayesian MP Actor/Critic ignore std"}}},
   {"mark": {"type": "line", "strokeWidth": 1.4, "clip": true}, "encoding": {"y": {"field": "b", "type": "quantitative", "title": "Sliding Reward"}, "color": {"datum": "Bayesian MP Actor/Critic ignore std"}}},
   {"mark": {"type": "area", "opacity": 0.5, "clip": true}, "encoding": {"y": {"field": "cl", "type": "quantitative", "title": "Sliding Reward"}, "y2": {"field": "ch"}, "color": {"datum": "PyTorch NN Actor/Critic"}}},
   {"mark": {"type": "line", "strokeWidth": 1.4, "clip": true}, "encoding": {"y": {"field": "c", "type": "quantitative", "title": "Sliding Reward"}, "color": {"datum": "PyTorch NN Actor/Critic"}}}
  ]
 }]
},
{"title": {"text": "(f)\u2002Reacher", "orient": "bottom", "anchor": "middle", "font": "Liberation Serif", "fontSize": 24, "offset": 15},
 "resolve": {"scale": {"color": "independent"}},
 "vconcat": [{
  "title": {"text": "Bayesian A2C fixed std comparison on Reacher-v5", "anchor": "middle"},
  "width": 430, "height": 266,
  "data": {"name": "f"},
  "encoding": {"x": {"field": "t", "type": "quantitative", "title": "Timesteps", "scale": {"domain": [-7680, 263680], "nice": false, "zero": false}, "axis": {"values": [0, 50000, 100000, 150000, 200000, 250000], "labelExpr": "datum.value == 0 ? '0' : datum.value == 50000 ? '5.00×10⁴' : datum.value == 100000 ? '1.00×10⁵' : datum.value == 150000 ? '1.50×10⁵' : datum.value == 200000 ? '2.00×10⁵' : '2.50×10⁵'", "labelFlush": false, "labelOverlap": false}}},
  "layer": [
   {"mark": {"type": "area", "opacity": 0.5, "clip": true}, "encoding": {"y": {"field": "al", "type": "quantitative", "title": "Sliding Reward", "scale": {"domain": [-1.547, -0.141], "nice": false, "zero": false}, "axis": {"values": [-1.4, -1.2, -1, -0.8, -0.6, -0.4, -0.2], "format": ".1f"}}, "y2": {"field": "ah"}, "color": {"datum": "Bayesian Message Passing Actor/Critic", "scale": {"domain": ["Bayesian Message Passing Actor/Critic", "Bayesian MP Actor/Critic ignore std", "PyTorch NN Actor/Critic"], "range": ["#0000ff", "#a52a2a", "#008000"]}, "legend": {"title": null}}}},
   {"mark": {"type": "line", "strokeWidth": 1.4, "clip": true}, "encoding": {"y": {"field": "a", "type": "quantitative", "title": "Sliding Reward"}, "color": {"datum": "Bayesian Message Passing Actor/Critic"}}},
   {"mark": {"type": "area", "opacity": 0.5, "clip": true}, "encoding": {"y": {"field": "bl", "type": "quantitative", "title": "Sliding Reward"}, "y2": {"field": "bh"}, "color": {"datum": "Bayesian MP Actor/Critic ignore std"}}},
   {"mark": {"type": "line", "strokeWidth": 1.4, "clip": true}, "encoding": {"y": {"field": "b", "type": "quantitative", "title": "Sliding Reward"}, "color": {"datum": "Bayesian MP Actor/Critic ignore std"}}},
   {"mark": {"type": "area", "opacity": 0.5, "clip": true}, "encoding": {"y": {"field": "cl", "type": "quantitative", "title": "Sliding Reward"}, "y2": {"field": "ch"}, "color": {"datum": "PyTorch NN Actor/Critic"}}},
   {"mark": {"type": "line", "strokeWidth": 1.4, "clip": true}, "encoding": {"y": {"field": "c", "type": "quantitative", "title": "Sliding Reward"}, "color": {"datum": "PyTorch NN Actor/Critic"}}}
  ]
 }]
},
{"title": {"text": "(g)\u2002Swimmer", "orient": "bottom", "anchor": "middle", "font": "Liberation Serif", "fontSize": 24, "offset": 15},
 "resolve": {"scale": {"color": "independent"}},
 "vconcat": [{
  "title": {"text": "Bayesian A2C fixed std comparison on Swimmer-v5", "anchor": "middle"},
  "width": 442, "height": 266,
  "data": {"name": "g"},
  "encoding": {"x": {"field": "t", "type": "quantitative", "title": "Timesteps", "scale": {"domain": [-7680, 263680], "nice": false, "zero": false}, "axis": {"values": [0, 50000, 100000, 150000, 200000, 250000], "labelExpr": "datum.value == 0 ? '0' : datum.value == 50000 ? '5.00×10⁴' : datum.value == 100000 ? '1.00×10⁵' : datum.value == 150000 ? '1.50×10⁵' : datum.value == 200000 ? '2.00×10⁵' : '2.50×10⁵'", "labelFlush": false, "labelOverlap": false}}},
  "layer": [
   {"mark": {"type": "area", "opacity": 0.5, "clip": true}, "encoding": {"y": {"field": "al", "type": "quantitative", "title": "Sliding Reward", "scale": {"domain": [-0.36, 0.555], "nice": false, "zero": false}, "axis": {"values": [-0.2, 0, 0.2, 0.4], "format": ".1f"}}, "y2": {"field": "ah"}, "color": {"datum": "Bayesian Message Passing Actor/Critic", "scale": {"domain": ["Bayesian Message Passing Actor/Critic", "Bayesian MP Actor/Critic ignore std", "PyTorch NN Actor/Critic"], "range": ["#0000ff", "#a52a2a", "#008000"]}, "legend": {"title": null}}}},
   {"mark": {"type": "line", "strokeWidth": 1.4, "clip": true}, "encoding": {"y": {"field": "a", "type": "quantitative", "title": "Sliding Reward"}, "color": {"datum": "Bayesian Message Passing Actor/Critic"}}},
   {"mark": {"type": "area", "opacity": 0.5, "clip": true}, "encoding": {"y": {"field": "bl", "type": "quantitative", "title": "Sliding Reward"}, "y2": {"field": "bh"}, "color": {"datum": "Bayesian MP Actor/Critic ignore std"}}},
   {"mark": {"type": "line", "strokeWidth": 1.4, "clip": true}, "encoding": {"y": {"field": "b", "type": "quantitative", "title": "Sliding Reward"}, "color": {"datum": "Bayesian MP Actor/Critic ignore std"}}},
   {"mark": {"type": "area", "opacity": 0.5, "clip": true}, "encoding": {"y": {"field": "cl", "type": "quantitative", "title": "Sliding Reward"}, "y2": {"field": "ch"}, "color": {"datum": "PyTorch NN Actor/Critic"}}},
   {"mark": {"type": "line", "strokeWidth": 1.4, "clip": true}, "encoding": {"y": {"field": "c", "type": "quantitative", "title": "Sliding Reward"}, "color": {"datum": "PyTorch NN Actor/Critic"}}}
  ]
 }]
},
{"title": {"text": "(h)\u2002Half Cheetah", "orient": "bottom", "anchor": "middle", "font": "Liberation Serif", "fontSize": 24, "offset": 15},
 "resolve": {"scale": {"color": "independent"}},
 "vconcat": [{
  "title": {"text": "Bayesian A2C fixed std comparison on HalfCheetah-v!", "anchor": "end", "dx": 14},
  "width": 430, "height": 266,
  "data": {"name": "h"},
  "encoding": {"x": {"field": "t", "type": "quantitative", "title": "Timesteps", "scale": {"domain": [-7680, 263680], "nice": false, "zero": false}, "axis": {"values": [0, 50000, 100000, 150000, 200000, 250000], "labelExpr": "datum.value == 0 ? '0' : datum.value == 50000 ? '5.00×10⁴' : datum.value == 100000 ? '1.00×10⁵' : datum.value == 150000 ? '1.50×10⁵' : datum.value == 200000 ? '2.00×10⁵' : '2.50×10⁵'", "labelFlush": false, "labelOverlap": false}}},
  "layer": [
   {"mark": {"type": "area", "opacity": 0.5, "clip": true}, "encoding": {"y": {"field": "al", "type": "quantitative", "title": "Sliding Reward", "scale": {"domain": [-0.576, 0.322], "nice": false, "zero": false}, "axis": {"values": [-0.4, -0.2, 0, 0.2], "format": ".1f"}}, "y2": {"field": "ah"}, "color": {"datum": "Bayesian Message Passing Actor/Critic", "scale": {"domain": ["Bayesian Message Passing Actor/Critic", "Bayesian MP Actor/Critic ignore std", "PyTorch NN Actor/Critic"], "range": ["#0000ff", "#a52a2a", "#008000"]}, "legend": {"title": null}}}},
   {"mark": {"type": "line", "strokeWidth": 1.4, "clip": true}, "encoding": {"y": {"field": "a", "type": "quantitative", "title": "Sliding Reward"}, "color": {"datum": "Bayesian Message Passing Actor/Critic"}}},
   {"mark": {"type": "area", "opacity": 0.5, "clip": true}, "encoding": {"y": {"field": "bl", "type": "quantitative", "title": "Sliding Reward"}, "y2": {"field": "bh"}, "color": {"datum": "Bayesian MP Actor/Critic ignore std"}}},
   {"mark": {"type": "line", "strokeWidth": 1.4, "clip": true}, "encoding": {"y": {"field": "b", "type": "quantitative", "title": "Sliding Reward"}, "color": {"datum": "Bayesian MP Actor/Critic ignore std"}}},
   {"mark": {"type": "area", "opacity": 0.5, "clip": true}, "encoding": {"y": {"field": "cl", "type": "quantitative", "title": "Sliding Reward"}, "y2": {"field": "ch"}, "color": {"datum": "PyTorch NN Actor/Critic"}}},
   {"mark": {"type": "line", "strokeWidth": 1.4, "clip": true}, "encoding": {"y": {"field": "c", "type": "quantitative", "title": "Sliding Reward"}, "color": {"datum": "PyTorch NN Actor/Critic"}}}
  ]
 }]
}
]
}
